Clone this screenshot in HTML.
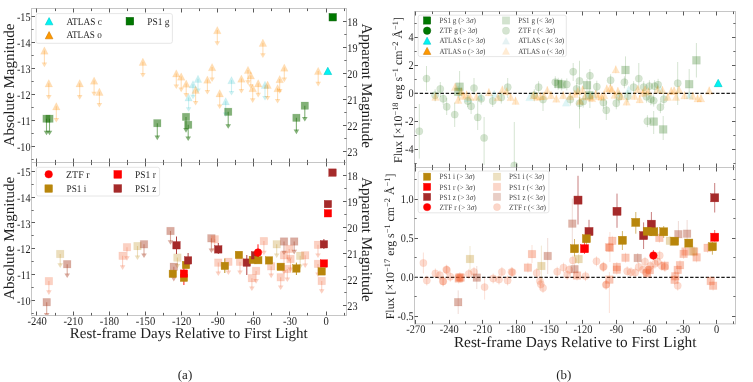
<!DOCTYPE html><html><head><meta charset="utf-8"><style>html,body{margin:0;padding:0;background:#fff;width:753px;height:382px;overflow:hidden}svg{display:block}text{font-family:"Liberation Serif",serif;text-rendering:geometricPrecision}svg{will-change:transform}</style></head><body>
<svg width="753" height="382" viewBox="0 0 753 382">
<rect width="753" height="382" fill="#fff"/>
<line x1="188.6" y1="97.4" x2="188.6" y2="108.3" stroke="#00b4bc" stroke-opacity="0.2" stroke-width="1.1"/>
<polygon points="185.8,107.2 191.4,107.2 188.6,111.8" fill="#00b4bc" fill-opacity="0.2"/>
<polygon points="188.6,93.7 184.8,101.1 192.4,101.1" fill="#00b4bc" fill-opacity="0.2" stroke="#00b4bc" stroke-opacity="0.070" stroke-width="0.7" stroke-linejoin="miter"/>
<line x1="193" y1="84.3" x2="193" y2="95.8" stroke="#00b4bc" stroke-opacity="0.2" stroke-width="1.1"/>
<polygon points="190.2,94.7 195.8,94.7 193,99.3" fill="#00b4bc" fill-opacity="0.2"/>
<polygon points="193,80.6 189.2,88 196.8,88" fill="#00b4bc" fill-opacity="0.2" stroke="#00b4bc" stroke-opacity="0.070" stroke-width="0.7" stroke-linejoin="miter"/>
<line x1="198" y1="78.8" x2="198" y2="89.5" stroke="#00b4bc" stroke-opacity="0.2" stroke-width="1.1"/>
<polygon points="195.2,88.4 200.8,88.4 198,93" fill="#00b4bc" fill-opacity="0.2"/>
<polygon points="198,75.1 194.2,82.5 201.8,82.5" fill="#00b4bc" fill-opacity="0.2" stroke="#00b4bc" stroke-opacity="0.070" stroke-width="0.7" stroke-linejoin="miter"/>
<line x1="225.7" y1="101.2" x2="225.7" y2="113.5" stroke="#00b4bc" stroke-opacity="0.2" stroke-width="1.1"/>
<polygon points="222.9,112.4 228.5,112.4 225.7,117" fill="#00b4bc" fill-opacity="0.2"/>
<polygon points="225.7,97.5 221.9,104.9 229.5,104.9" fill="#00b4bc" fill-opacity="0.2" stroke="#00b4bc" stroke-opacity="0.070" stroke-width="0.7" stroke-linejoin="miter"/>
<line x1="231.5" y1="80.1" x2="231.5" y2="92" stroke="#00b4bc" stroke-opacity="0.2" stroke-width="1.1"/>
<polygon points="228.7,90.9 234.3,90.9 231.5,95.5" fill="#00b4bc" fill-opacity="0.2"/>
<polygon points="231.5,76.4 227.7,83.8 235.3,83.8" fill="#00b4bc" fill-opacity="0.2" stroke="#00b4bc" stroke-opacity="0.070" stroke-width="0.7" stroke-linejoin="miter"/>
<line x1="265" y1="84.8" x2="265" y2="97" stroke="#00b4bc" stroke-opacity="0.2" stroke-width="1.1"/>
<polygon points="262.2,95.9 267.8,95.9 265,100.5" fill="#00b4bc" fill-opacity="0.2"/>
<polygon points="265,81.1 261.2,88.5 268.8,88.5" fill="#00b4bc" fill-opacity="0.2" stroke="#00b4bc" stroke-opacity="0.070" stroke-width="0.7" stroke-linejoin="miter"/>
<line x1="44.4" y1="50.5" x2="44.4" y2="63.7" stroke="#ff8c00" stroke-opacity="0.29" stroke-width="1.1"/>
<polygon points="41.6,62.6 47.2,62.6 44.4,67.2" fill="#ff8c00" fill-opacity="0.29"/>
<polygon points="44.4,46.8 40.6,54.2 48.2,54.2" fill="#ff8c00" fill-opacity="0.29" stroke="#ff8c00" stroke-opacity="0.101" stroke-width="0.7" stroke-linejoin="miter"/>
<line x1="48.8" y1="83.2" x2="48.8" y2="96.2" stroke="#ff8c00" stroke-opacity="0.29" stroke-width="1.1"/>
<polygon points="46,95.1 51.6,95.1 48.8,99.7" fill="#ff8c00" fill-opacity="0.29"/>
<polygon points="48.8,79.5 45,86.9 52.6,86.9" fill="#ff8c00" fill-opacity="0.29" stroke="#ff8c00" stroke-opacity="0.101" stroke-width="0.7" stroke-linejoin="miter"/>
<line x1="56.3" y1="106.3" x2="56.3" y2="119" stroke="#ff8c00" stroke-opacity="0.29" stroke-width="1.1"/>
<polygon points="53.5,117.9 59.1,117.9 56.3,122.5" fill="#ff8c00" fill-opacity="0.29"/>
<polygon points="56.3,102.6 52.5,110 60.1,110" fill="#ff8c00" fill-opacity="0.29" stroke="#ff8c00" stroke-opacity="0.101" stroke-width="0.7" stroke-linejoin="miter"/>
<line x1="79.7" y1="83.2" x2="79.7" y2="96.2" stroke="#ff8c00" stroke-opacity="0.29" stroke-width="1.1"/>
<polygon points="76.9,95.1 82.5,95.1 79.7,99.7" fill="#ff8c00" fill-opacity="0.29"/>
<polygon points="79.7,79.5 75.9,86.9 83.5,86.9" fill="#ff8c00" fill-opacity="0.29" stroke="#ff8c00" stroke-opacity="0.101" stroke-width="0.7" stroke-linejoin="miter"/>
<line x1="94.1" y1="80.6" x2="94.1" y2="92.8" stroke="#ff8c00" stroke-opacity="0.29" stroke-width="1.1"/>
<polygon points="91.3,91.7 96.9,91.7 94.1,96.3" fill="#ff8c00" fill-opacity="0.29"/>
<polygon points="94.1,76.9 90.3,84.3 97.9,84.3" fill="#ff8c00" fill-opacity="0.29" stroke="#ff8c00" stroke-opacity="0.101" stroke-width="0.7" stroke-linejoin="miter"/>
<line x1="99.4" y1="91.8" x2="99.4" y2="104" stroke="#ff8c00" stroke-opacity="0.29" stroke-width="1.1"/>
<polygon points="96.6,102.9 102.2,102.9 99.4,107.5" fill="#ff8c00" fill-opacity="0.29"/>
<polygon points="99.4,88.1 95.6,95.5 103.2,95.5" fill="#ff8c00" fill-opacity="0.29" stroke="#ff8c00" stroke-opacity="0.101" stroke-width="0.7" stroke-linejoin="miter"/>
<line x1="142.9" y1="61.8" x2="142.9" y2="74" stroke="#ff8c00" stroke-opacity="0.29" stroke-width="1.1"/>
<polygon points="140.1,72.9 145.7,72.9 142.9,77.5" fill="#ff8c00" fill-opacity="0.29"/>
<polygon points="142.9,58.1 139.1,65.5 146.7,65.5" fill="#ff8c00" fill-opacity="0.29" stroke="#ff8c00" stroke-opacity="0.101" stroke-width="0.7" stroke-linejoin="miter"/>
<line x1="176.3" y1="73.4" x2="176.3" y2="85.6" stroke="#ff8c00" stroke-opacity="0.29" stroke-width="1.1"/>
<polygon points="173.5,84.5 179.1,84.5 176.3,89.1" fill="#ff8c00" fill-opacity="0.29"/>
<polygon points="176.3,69.7 172.5,77.1 180.1,77.1" fill="#ff8c00" fill-opacity="0.29" stroke="#ff8c00" stroke-opacity="0.101" stroke-width="0.7" stroke-linejoin="miter"/>
<line x1="181.2" y1="76.5" x2="181.2" y2="88.7" stroke="#ff8c00" stroke-opacity="0.29" stroke-width="1.1"/>
<polygon points="178.4,87.6 184,87.6 181.2,92.2" fill="#ff8c00" fill-opacity="0.29"/>
<polygon points="181.2,72.8 177.4,80.2 185,80.2" fill="#ff8c00" fill-opacity="0.29" stroke="#ff8c00" stroke-opacity="0.101" stroke-width="0.7" stroke-linejoin="miter"/>
<line x1="186.2" y1="83.6" x2="186.2" y2="94.2" stroke="#ff8c00" stroke-opacity="0.29" stroke-width="1.1"/>
<polygon points="183.4,93.1 189,93.1 186.2,97.7" fill="#ff8c00" fill-opacity="0.29"/>
<polygon points="186.2,79.9 182.4,87.3 190,87.3" fill="#ff8c00" fill-opacity="0.29" stroke="#ff8c00" stroke-opacity="0.101" stroke-width="0.7" stroke-linejoin="miter"/>
<line x1="195.6" y1="89.8" x2="195.6" y2="102" stroke="#ff8c00" stroke-opacity="0.29" stroke-width="1.1"/>
<polygon points="192.8,100.9 198.4,100.9 195.6,105.5" fill="#ff8c00" fill-opacity="0.29"/>
<polygon points="195.6,86.1 191.8,93.5 199.4,93.5" fill="#ff8c00" fill-opacity="0.29" stroke="#ff8c00" stroke-opacity="0.101" stroke-width="0.7" stroke-linejoin="miter"/>
<line x1="207.4" y1="79.6" x2="207.4" y2="91.1" stroke="#ff8c00" stroke-opacity="0.29" stroke-width="1.1"/>
<polygon points="204.6,90 210.2,90 207.4,94.6" fill="#ff8c00" fill-opacity="0.29"/>
<polygon points="207.4,75.9 203.6,83.3 211.2,83.3" fill="#ff8c00" fill-opacity="0.29" stroke="#ff8c00" stroke-opacity="0.101" stroke-width="0.7" stroke-linejoin="miter"/>
<line x1="212.1" y1="67.1" x2="212.1" y2="78.5" stroke="#ff8c00" stroke-opacity="0.29" stroke-width="1.1"/>
<polygon points="209.3,77.4 214.9,77.4 212.1,82" fill="#ff8c00" fill-opacity="0.29"/>
<polygon points="212.1,63.4 208.3,70.8 215.9,70.8" fill="#ff8c00" fill-opacity="0.29" stroke="#ff8c00" stroke-opacity="0.101" stroke-width="0.7" stroke-linejoin="miter"/>
<line x1="217.3" y1="30.1" x2="217.3" y2="42.3" stroke="#ff8c00" stroke-opacity="0.29" stroke-width="1.1"/>
<polygon points="214.5,41.2 220.1,41.2 217.3,45.8" fill="#ff8c00" fill-opacity="0.29"/>
<polygon points="217.3,26.4 213.5,33.8 221.1,33.8" fill="#ff8c00" fill-opacity="0.29" stroke="#ff8c00" stroke-opacity="0.101" stroke-width="0.7" stroke-linejoin="miter"/>
<line x1="219.7" y1="93.2" x2="219.7" y2="105.5" stroke="#ff8c00" stroke-opacity="0.29" stroke-width="1.1"/>
<polygon points="216.9,104.4 222.5,104.4 219.7,109" fill="#ff8c00" fill-opacity="0.29"/>
<polygon points="219.7,89.5 215.9,96.9 223.5,96.9" fill="#ff8c00" fill-opacity="0.29" stroke="#ff8c00" stroke-opacity="0.101" stroke-width="0.7" stroke-linejoin="miter"/>
<line x1="241.4" y1="78.6" x2="241.4" y2="90" stroke="#ff8c00" stroke-opacity="0.29" stroke-width="1.1"/>
<polygon points="238.6,88.9 244.2,88.9 241.4,93.5" fill="#ff8c00" fill-opacity="0.29"/>
<polygon points="241.4,74.9 237.6,82.3 245.2,82.3" fill="#ff8c00" fill-opacity="0.29" stroke="#ff8c00" stroke-opacity="0.101" stroke-width="0.7" stroke-linejoin="miter"/>
<line x1="248" y1="69.9" x2="248" y2="81.3" stroke="#ff8c00" stroke-opacity="0.29" stroke-width="1.1"/>
<polygon points="245.2,80.2 250.8,80.2 248,84.8" fill="#ff8c00" fill-opacity="0.29"/>
<polygon points="248,66.2 244.2,73.6 251.8,73.6" fill="#ff8c00" fill-opacity="0.29" stroke="#ff8c00" stroke-opacity="0.101" stroke-width="0.7" stroke-linejoin="miter"/>
<line x1="250.8" y1="75.4" x2="250.8" y2="85.3" stroke="#ff8c00" stroke-opacity="0.29" stroke-width="1.1"/>
<polygon points="248,84.2 253.6,84.2 250.8,88.8" fill="#ff8c00" fill-opacity="0.29"/>
<polygon points="250.8,71.7 247,79.1 254.6,79.1" fill="#ff8c00" fill-opacity="0.29" stroke="#ff8c00" stroke-opacity="0.101" stroke-width="0.7" stroke-linejoin="miter"/>
<line x1="252.7" y1="88" x2="252.7" y2="99.4" stroke="#ff8c00" stroke-opacity="0.29" stroke-width="1.1"/>
<polygon points="249.9,98.3 255.5,98.3 252.7,102.9" fill="#ff8c00" fill-opacity="0.29"/>
<polygon points="252.7,84.3 248.9,91.7 256.5,91.7" fill="#ff8c00" fill-opacity="0.29" stroke="#ff8c00" stroke-opacity="0.101" stroke-width="0.7" stroke-linejoin="miter"/>
<line x1="258.2" y1="83.3" x2="258.2" y2="93.9" stroke="#ff8c00" stroke-opacity="0.29" stroke-width="1.1"/>
<polygon points="255.4,92.8 261,92.8 258.2,97.4" fill="#ff8c00" fill-opacity="0.29"/>
<polygon points="258.2,79.6 254.4,87 262,87" fill="#ff8c00" fill-opacity="0.29" stroke="#ff8c00" stroke-opacity="0.101" stroke-width="0.7" stroke-linejoin="miter"/>
<line x1="262.9" y1="42.7" x2="262.9" y2="54.4" stroke="#ff8c00" stroke-opacity="0.29" stroke-width="1.1"/>
<polygon points="260.1,53.3 265.7,53.3 262.9,57.9" fill="#ff8c00" fill-opacity="0.29"/>
<polygon points="262.9,39 259.1,46.4 266.7,46.4" fill="#ff8c00" fill-opacity="0.29" stroke="#ff8c00" stroke-opacity="0.101" stroke-width="0.7" stroke-linejoin="miter"/>
<line x1="267.6" y1="84.8" x2="267.6" y2="97" stroke="#ff8c00" stroke-opacity="0.29" stroke-width="1.1"/>
<polygon points="264.8,95.9 270.4,95.9 267.6,100.5" fill="#ff8c00" fill-opacity="0.29"/>
<polygon points="267.6,81.1 263.8,88.5 271.4,88.5" fill="#ff8c00" fill-opacity="0.29" stroke="#ff8c00" stroke-opacity="0.101" stroke-width="0.7" stroke-linejoin="miter"/>
<line x1="277.6" y1="88.1" x2="277.6" y2="100.1" stroke="#ff8c00" stroke-opacity="0.29" stroke-width="1.1"/>
<polygon points="274.8,99 280.4,99 277.6,103.6" fill="#ff8c00" fill-opacity="0.29"/>
<polygon points="277.6,84.4 273.8,91.8 281.4,91.8" fill="#ff8c00" fill-opacity="0.29" stroke="#ff8c00" stroke-opacity="0.101" stroke-width="0.7" stroke-linejoin="miter"/>
<line x1="279.7" y1="79.1" x2="279.7" y2="90.2" stroke="#ff8c00" stroke-opacity="0.29" stroke-width="1.1"/>
<polygon points="276.9,89.1 282.5,89.1 279.7,93.7" fill="#ff8c00" fill-opacity="0.29"/>
<polygon points="279.7,75.4 275.9,82.8 283.5,82.8" fill="#ff8c00" fill-opacity="0.29" stroke="#ff8c00" stroke-opacity="0.101" stroke-width="0.7" stroke-linejoin="miter"/>
<line x1="284.3" y1="67.6" x2="284.3" y2="78.7" stroke="#ff8c00" stroke-opacity="0.29" stroke-width="1.1"/>
<polygon points="281.5,77.6 287.1,77.6 284.3,82.2" fill="#ff8c00" fill-opacity="0.29"/>
<polygon points="284.3,63.9 280.5,71.3 288.1,71.3" fill="#ff8c00" fill-opacity="0.29" stroke="#ff8c00" stroke-opacity="0.101" stroke-width="0.7" stroke-linejoin="miter"/>
<line x1="318.2" y1="70.9" x2="318.2" y2="82.9" stroke="#ff8c00" stroke-opacity="0.29" stroke-width="1.1"/>
<polygon points="315.4,81.8 321,81.8 318.2,86.4" fill="#ff8c00" fill-opacity="0.29"/>
<polygon points="318.2,67.2 314.4,74.6 322,74.6" fill="#ff8c00" fill-opacity="0.29" stroke="#ff8c00" stroke-opacity="0.101" stroke-width="0.7" stroke-linejoin="miter"/>
<line x1="46.5" y1="118.7" x2="46.5" y2="131.8" stroke="#156c00" stroke-opacity="0.53" stroke-width="1.1"/>
<polygon points="43.7,130.7 49.3,130.7 46.5,135.3" fill="#156c00" fill-opacity="0.53"/>
<rect x="42.85" y="115.05" width="7.3" height="7.3" fill="#156c00" fill-opacity="0.53" stroke="#156c00" stroke-opacity="0.185" stroke-width="0.7"/>
<line x1="49.5" y1="118.7" x2="49.5" y2="131.8" stroke="#156c00" stroke-opacity="0.53" stroke-width="1.1"/>
<polygon points="46.7,130.7 52.3,130.7 49.5,135.3" fill="#156c00" fill-opacity="0.53"/>
<rect x="45.85" y="115.05" width="7.3" height="7.3" fill="#156c00" fill-opacity="0.53" stroke="#156c00" stroke-opacity="0.185" stroke-width="0.7"/>
<line x1="157.3" y1="123.2" x2="157.3" y2="136.7" stroke="#156c00" stroke-opacity="0.53" stroke-width="1.1"/>
<polygon points="154.5,135.6 160.1,135.6 157.3,140.2" fill="#156c00" fill-opacity="0.53"/>
<rect x="153.65" y="119.55" width="7.3" height="7.3" fill="#156c00" fill-opacity="0.53" stroke="#156c00" stroke-opacity="0.185" stroke-width="0.7"/>
<line x1="186" y1="116.9" x2="186" y2="129.2" stroke="#156c00" stroke-opacity="0.53" stroke-width="1.1"/>
<polygon points="183.2,128.1 188.8,128.1 186,132.7" fill="#156c00" fill-opacity="0.53"/>
<rect x="182.35" y="113.25" width="7.3" height="7.3" fill="#156c00" fill-opacity="0.53" stroke="#156c00" stroke-opacity="0.185" stroke-width="0.7"/>
<line x1="188.2" y1="124.8" x2="188.2" y2="137.5" stroke="#156c00" stroke-opacity="0.53" stroke-width="1.1"/>
<polygon points="185.4,136.4 191,136.4 188.2,141" fill="#156c00" fill-opacity="0.53"/>
<rect x="184.55" y="121.15" width="7.3" height="7.3" fill="#156c00" fill-opacity="0.53" stroke="#156c00" stroke-opacity="0.185" stroke-width="0.7"/>
<line x1="228.2" y1="111.8" x2="228.2" y2="125.3" stroke="#156c00" stroke-opacity="0.53" stroke-width="1.1"/>
<polygon points="225.4,124.2 231,124.2 228.2,128.8" fill="#156c00" fill-opacity="0.53"/>
<rect x="224.55" y="108.15" width="7.3" height="7.3" fill="#156c00" fill-opacity="0.53" stroke="#156c00" stroke-opacity="0.185" stroke-width="0.7"/>
<line x1="296.4" y1="117.8" x2="296.4" y2="130.7" stroke="#156c00" stroke-opacity="0.53" stroke-width="1.1"/>
<polygon points="293.6,129.6 299.2,129.6 296.4,134.2" fill="#156c00" fill-opacity="0.53"/>
<rect x="292.75" y="114.15" width="7.3" height="7.3" fill="#156c00" fill-opacity="0.53" stroke="#156c00" stroke-opacity="0.185" stroke-width="0.7"/>
<line x1="304.8" y1="105.7" x2="304.8" y2="118.1" stroke="#156c00" stroke-opacity="0.53" stroke-width="1.1"/>
<polygon points="302,117 307.6,117 304.8,121.6" fill="#156c00" fill-opacity="0.53"/>
<rect x="301.15" y="102.05" width="7.3" height="7.3" fill="#156c00" fill-opacity="0.53" stroke="#156c00" stroke-opacity="0.185" stroke-width="0.7"/>
<polygon points="327.8,67.25 323.9,74.55 331.7,74.55" fill="#00f4f4" fill-opacity="1" stroke="#00c8c8" stroke-opacity="1.000" stroke-width="0.6" stroke-linejoin="miter"/>
<rect x="329.05" y="13.65" width="7.3" height="7.3" fill="#007800" fill-opacity="1" stroke="#005a00" stroke-opacity="1.000" stroke-width="0.5"/>
<clipPath id="cab"><rect x="31.5" y="162.2" width="315" height="153.1"/></clipPath><g clip-path="url(#cab)">
<line x1="46.7" y1="302.2" x2="46.7" y2="314" stroke="#a83a1c" stroke-opacity="0.42" stroke-width="1.1"/>
<polygon points="43.9,312.9 49.5,312.9 46.7,317.5" fill="#a83a1c" fill-opacity="0.42"/>
<rect x="42.95" y="298.45" width="7.5" height="7.5" fill="#a83a1c" fill-opacity="0.42" stroke="#a83a1c" stroke-opacity="0.147" stroke-width="0.7"/>
<line x1="48.9" y1="281.1" x2="48.9" y2="291.4" stroke="#f05a28" stroke-opacity="0.28" stroke-width="1.1"/>
<polygon points="46.1,290.3 51.7,290.3 48.9,294.9" fill="#f05a28" fill-opacity="0.28"/>
<rect x="45.15" y="277.35" width="7.5" height="7.5" fill="#f05a28" fill-opacity="0.28" stroke="#f05a28" stroke-opacity="0.098" stroke-width="0.7"/>
<line x1="60.2" y1="254" x2="60.2" y2="264.4" stroke="#b8860b" stroke-opacity="0.27" stroke-width="1.1"/>
<polygon points="57.4,263.3 63,263.3 60.2,267.9" fill="#b8860b" fill-opacity="0.27"/>
<rect x="56.45" y="250.25" width="7.5" height="7.5" fill="#b8860b" fill-opacity="0.27" stroke="#b8860b" stroke-opacity="0.095" stroke-width="0.7"/>
<line x1="67.2" y1="264.2" x2="67.2" y2="274.5" stroke="#a83a1c" stroke-opacity="0.42" stroke-width="1.1"/>
<polygon points="64.4,273.4 70,273.4 67.2,278" fill="#a83a1c" fill-opacity="0.42"/>
<rect x="63.45" y="260.45" width="7.5" height="7.5" fill="#a83a1c" fill-opacity="0.42" stroke="#a83a1c" stroke-opacity="0.147" stroke-width="0.7"/>
<line x1="122.6" y1="255.8" x2="122.6" y2="266.4" stroke="#f05a28" stroke-opacity="0.28" stroke-width="1.1"/>
<polygon points="119.8,265.3 125.4,265.3 122.6,269.9" fill="#f05a28" fill-opacity="0.28"/>
<rect x="118.85" y="252.05" width="7.5" height="7.5" fill="#f05a28" fill-opacity="0.28" stroke="#f05a28" stroke-opacity="0.098" stroke-width="0.7"/>
<line x1="127" y1="247.2" x2="127" y2="257.3" stroke="#f05a28" stroke-opacity="0.28" stroke-width="1.1"/>
<polygon points="124.2,256.2 129.8,256.2 127,260.8" fill="#f05a28" fill-opacity="0.28"/>
<rect x="123.25" y="243.45" width="7.5" height="7.5" fill="#f05a28" fill-opacity="0.28" stroke="#f05a28" stroke-opacity="0.098" stroke-width="0.7"/>
<line x1="137.5" y1="246.1" x2="137.5" y2="256.6" stroke="#b8860b" stroke-opacity="0.27" stroke-width="1.1"/>
<polygon points="134.7,255.5 140.3,255.5 137.5,260.1" fill="#b8860b" fill-opacity="0.27"/>
<rect x="133.75" y="242.35" width="7.5" height="7.5" fill="#b8860b" fill-opacity="0.27" stroke="#b8860b" stroke-opacity="0.095" stroke-width="0.7"/>
<line x1="144" y1="244.3" x2="144" y2="254.6" stroke="#a83a1c" stroke-opacity="0.42" stroke-width="1.1"/>
<polygon points="141.2,253.5 146.8,253.5 144,258.1" fill="#a83a1c" fill-opacity="0.42"/>
<rect x="140.25" y="240.55" width="7.5" height="7.5" fill="#a83a1c" fill-opacity="0.42" stroke="#a83a1c" stroke-opacity="0.147" stroke-width="0.7"/>
<line x1="170.5" y1="231" x2="170.5" y2="241.3" stroke="#a83a1c" stroke-opacity="0.42" stroke-width="1.1"/>
<polygon points="167.7,240.2 173.3,240.2 170.5,244.8" fill="#a83a1c" fill-opacity="0.42"/>
<rect x="166.75" y="227.25" width="7.5" height="7.5" fill="#a83a1c" fill-opacity="0.42" stroke="#a83a1c" stroke-opacity="0.147" stroke-width="0.7"/>
<line x1="177.4" y1="257.6" x2="177.4" y2="265.1" stroke="#b8860b" stroke-opacity="0.27" stroke-width="1.1"/>
<polygon points="174.6,264 180.2,264 177.4,268.6" fill="#b8860b" fill-opacity="0.27"/>
<rect x="173.65" y="253.85" width="7.5" height="7.5" fill="#b8860b" fill-opacity="0.27" stroke="#b8860b" stroke-opacity="0.095" stroke-width="0.7"/>
<line x1="173.8" y1="266.8" x2="173.8" y2="277.9" stroke="#a83a1c" stroke-opacity="0.42" stroke-width="1.1"/>
<polygon points="171,276.8 176.6,276.8 173.8,281.4" fill="#a83a1c" fill-opacity="0.42"/>
<rect x="170.05" y="263.05" width="7.5" height="7.5" fill="#a83a1c" fill-opacity="0.42" stroke="#a83a1c" stroke-opacity="0.147" stroke-width="0.7"/>
<line x1="211.4" y1="238.3" x2="211.4" y2="249.5" stroke="#a83a1c" stroke-opacity="0.42" stroke-width="1.1"/>
<polygon points="208.6,248.4 214.2,248.4 211.4,253" fill="#a83a1c" fill-opacity="0.42"/>
<rect x="207.65" y="234.55" width="7.5" height="7.5" fill="#a83a1c" fill-opacity="0.42" stroke="#a83a1c" stroke-opacity="0.147" stroke-width="0.7"/>
<line x1="214.7" y1="239.3" x2="214.7" y2="249.5" stroke="#f05a28" stroke-opacity="0.28" stroke-width="1.1"/>
<polygon points="211.9,248.4 217.5,248.4 214.7,253" fill="#f05a28" fill-opacity="0.28"/>
<rect x="210.95" y="235.55" width="7.5" height="7.5" fill="#f05a28" fill-opacity="0.28" stroke="#f05a28" stroke-opacity="0.098" stroke-width="0.7"/>
<line x1="218.3" y1="262.6" x2="218.3" y2="272.5" stroke="#f05a28" stroke-opacity="0.28" stroke-width="1.1"/>
<polygon points="215.5,271.4 221.1,271.4 218.3,276" fill="#f05a28" fill-opacity="0.28"/>
<rect x="214.55" y="258.85" width="7.5" height="7.5" fill="#f05a28" fill-opacity="0.28" stroke="#f05a28" stroke-opacity="0.098" stroke-width="0.7"/>
<line x1="228.4" y1="261.8" x2="228.4" y2="271.5" stroke="#f05a28" stroke-opacity="0.28" stroke-width="1.1"/>
<polygon points="225.6,270.4 231.2,270.4 228.4,275" fill="#f05a28" fill-opacity="0.28"/>
<rect x="224.65" y="258.05" width="7.5" height="7.5" fill="#f05a28" fill-opacity="0.28" stroke="#f05a28" stroke-opacity="0.098" stroke-width="0.7"/>
<line x1="240" y1="261.8" x2="240" y2="271.5" stroke="#f05a28" stroke-opacity="0.28" stroke-width="1.1"/>
<polygon points="237.2,270.4 242.8,270.4 240,275" fill="#f05a28" fill-opacity="0.28"/>
<rect x="236.25" y="258.05" width="7.5" height="7.5" fill="#f05a28" fill-opacity="0.28" stroke="#f05a28" stroke-opacity="0.098" stroke-width="0.7"/>
<line x1="263.9" y1="241.1" x2="263.9" y2="251.8" stroke="#f05a28" stroke-opacity="0.28" stroke-width="1.1"/>
<polygon points="261.1,250.7 266.7,250.7 263.9,255.3" fill="#f05a28" fill-opacity="0.28"/>
<rect x="260.15" y="237.35" width="7.5" height="7.5" fill="#f05a28" fill-opacity="0.28" stroke="#f05a28" stroke-opacity="0.098" stroke-width="0.7"/>
<line x1="271.2" y1="266.3" x2="271.2" y2="274.7" stroke="#f05a28" stroke-opacity="0.28" stroke-width="1.1"/>
<polygon points="268.4,273.6 274,273.6 271.2,278.2" fill="#f05a28" fill-opacity="0.28"/>
<rect x="267.45" y="262.55" width="7.5" height="7.5" fill="#f05a28" fill-opacity="0.28" stroke="#f05a28" stroke-opacity="0.098" stroke-width="0.7"/>
<line x1="256.1" y1="270.9" x2="256.1" y2="280.2" stroke="#f05a28" stroke-opacity="0.28" stroke-width="1.1"/>
<polygon points="253.3,279.1 258.9,279.1 256.1,283.7" fill="#f05a28" fill-opacity="0.28"/>
<rect x="252.35" y="267.15" width="7.5" height="7.5" fill="#f05a28" fill-opacity="0.28" stroke="#f05a28" stroke-opacity="0.098" stroke-width="0.7"/>
<line x1="251.9" y1="278.2" x2="251.9" y2="287.5" stroke="#f05a28" stroke-opacity="0.28" stroke-width="1.1"/>
<polygon points="249.1,286.4 254.7,286.4 251.9,291" fill="#f05a28" fill-opacity="0.28"/>
<rect x="248.15" y="274.45" width="7.5" height="7.5" fill="#f05a28" fill-opacity="0.28" stroke="#f05a28" stroke-opacity="0.098" stroke-width="0.7"/>
<line x1="276.7" y1="244.3" x2="276.7" y2="254.5" stroke="#b8860b" stroke-opacity="0.27" stroke-width="1.1"/>
<polygon points="273.9,253.4 279.5,253.4 276.7,258" fill="#b8860b" fill-opacity="0.27"/>
<rect x="272.95" y="240.55" width="7.5" height="7.5" fill="#b8860b" fill-opacity="0.27" stroke="#b8860b" stroke-opacity="0.095" stroke-width="0.7"/>
<line x1="284" y1="241.5" x2="284" y2="251.8" stroke="#a83a1c" stroke-opacity="0.42" stroke-width="1.1"/>
<polygon points="281.2,250.7 286.8,250.7 284,255.3" fill="#a83a1c" fill-opacity="0.42"/>
<rect x="280.25" y="237.75" width="7.5" height="7.5" fill="#a83a1c" fill-opacity="0.42" stroke="#a83a1c" stroke-opacity="0.147" stroke-width="0.7"/>
<line x1="294.2" y1="241.5" x2="294.2" y2="250.9" stroke="#a83a1c" stroke-opacity="0.42" stroke-width="1.1"/>
<polygon points="291.4,249.8 297,249.8 294.2,254.4" fill="#a83a1c" fill-opacity="0.42"/>
<rect x="290.45" y="237.75" width="7.5" height="7.5" fill="#a83a1c" fill-opacity="0.42" stroke="#a83a1c" stroke-opacity="0.147" stroke-width="0.7"/>
<line x1="289.2" y1="248.9" x2="289.2" y2="258.5" stroke="#f05a28" stroke-opacity="0.28" stroke-width="1.1"/>
<polygon points="286.4,257.4 292,257.4 289.2,262" fill="#f05a28" fill-opacity="0.28"/>
<rect x="285.45" y="245.15" width="7.5" height="7.5" fill="#f05a28" fill-opacity="0.28" stroke="#f05a28" stroke-opacity="0.098" stroke-width="0.7"/>
<line x1="284" y1="255.3" x2="284" y2="271" stroke="#f05a28" stroke-opacity="0.28" stroke-width="1.1"/>
<polygon points="281.2,269.9 286.8,269.9 284,274.5" fill="#f05a28" fill-opacity="0.28"/>
<rect x="280.25" y="251.55" width="7.5" height="7.5" fill="#f05a28" fill-opacity="0.28" stroke="#f05a28" stroke-opacity="0.098" stroke-width="0.7"/>
<line x1="290.5" y1="259" x2="290.5" y2="268.5" stroke="#f05a28" stroke-opacity="0.28" stroke-width="1.1"/>
<polygon points="287.7,267.4 293.3,267.4 290.5,272" fill="#f05a28" fill-opacity="0.28"/>
<rect x="286.75" y="255.25" width="7.5" height="7.5" fill="#f05a28" fill-opacity="0.28" stroke="#f05a28" stroke-opacity="0.098" stroke-width="0.7"/>
<line x1="280.7" y1="277.3" x2="280.7" y2="286.6" stroke="#f05a28" stroke-opacity="0.28" stroke-width="1.1"/>
<polygon points="277.9,285.5 283.5,285.5 280.7,290.1" fill="#f05a28" fill-opacity="0.28"/>
<rect x="276.95" y="273.55" width="7.5" height="7.5" fill="#f05a28" fill-opacity="0.28" stroke="#f05a28" stroke-opacity="0.098" stroke-width="0.7"/>
<line x1="287.3" y1="269" x2="287.3" y2="278.5" stroke="#f05a28" stroke-opacity="0.28" stroke-width="1.1"/>
<polygon points="284.5,277.4 290.1,277.4 287.3,282" fill="#f05a28" fill-opacity="0.28"/>
<rect x="283.55" y="265.25" width="7.5" height="7.5" fill="#f05a28" fill-opacity="0.28" stroke="#f05a28" stroke-opacity="0.098" stroke-width="0.7"/>
<line x1="300.2" y1="255.8" x2="300.2" y2="265.5" stroke="#b8860b" stroke-opacity="0.27" stroke-width="1.1"/>
<polygon points="297.4,264.4 303,264.4 300.2,269" fill="#b8860b" fill-opacity="0.27"/>
<rect x="296.45" y="252.05" width="7.5" height="7.5" fill="#b8860b" fill-opacity="0.27" stroke="#b8860b" stroke-opacity="0.095" stroke-width="0.7"/>
<line x1="305.2" y1="255.3" x2="305.2" y2="264.6" stroke="#f05a28" stroke-opacity="0.28" stroke-width="1.1"/>
<polygon points="302.4,263.5 308,263.5 305.2,268.1" fill="#f05a28" fill-opacity="0.28"/>
<rect x="301.45" y="251.55" width="7.5" height="7.5" fill="#f05a28" fill-opacity="0.28" stroke="#f05a28" stroke-opacity="0.098" stroke-width="0.7"/>
<line x1="318" y1="244.8" x2="318" y2="254.5" stroke="#f05a28" stroke-opacity="0.28" stroke-width="1.1"/>
<polygon points="315.2,253.4 320.8,253.4 318,258" fill="#f05a28" fill-opacity="0.28"/>
<rect x="314.25" y="241.05" width="7.5" height="7.5" fill="#f05a28" fill-opacity="0.28" stroke="#f05a28" stroke-opacity="0.098" stroke-width="0.7"/>
<line x1="318" y1="263.9" x2="318" y2="273.5" stroke="#f05a28" stroke-opacity="0.28" stroke-width="1.1"/>
<polygon points="315.2,272.4 320.8,272.4 318,277" fill="#f05a28" fill-opacity="0.28"/>
<rect x="314.25" y="260.15" width="7.5" height="7.5" fill="#f05a28" fill-opacity="0.28" stroke="#f05a28" stroke-opacity="0.098" stroke-width="0.7"/>
<line x1="321.7" y1="281" x2="321.7" y2="290.3" stroke="#f05a28" stroke-opacity="0.28" stroke-width="1.1"/>
<polygon points="318.9,289.2 324.5,289.2 321.7,293.8" fill="#f05a28" fill-opacity="0.28"/>
<rect x="317.95" y="277.25" width="7.5" height="7.5" fill="#f05a28" fill-opacity="0.28" stroke="#f05a28" stroke-opacity="0.098" stroke-width="0.7"/>
</g>
<line x1="176.5" y1="236.5" x2="176.5" y2="254" stroke="#a52a2a" stroke-opacity="0.9" stroke-width="1"/>
<line x1="188.1" y1="253" x2="188.1" y2="265" stroke="#a52a2a" stroke-opacity="0.9" stroke-width="1"/>
<line x1="183.9" y1="268" x2="183.9" y2="285" stroke="#ff0000" stroke-opacity="0.9" stroke-width="1"/>
<line x1="218.3" y1="243" x2="218.3" y2="254" stroke="#a52a2a" stroke-opacity="0.9" stroke-width="1"/>
<line x1="224.8" y1="258.5" x2="224.8" y2="273" stroke="#b8860b" stroke-opacity="0.9" stroke-width="1"/>
<line x1="246.8" y1="255" x2="246.8" y2="275" stroke="#a52a2a" stroke-opacity="0.9" stroke-width="1"/>
<line x1="296.4" y1="262.6" x2="296.4" y2="275" stroke="#b8860b" stroke-opacity="0.9" stroke-width="1"/>
<line x1="323.9" y1="239" x2="323.9" y2="249" stroke="#a52a2a" stroke-opacity="0.9" stroke-width="1"/>
<rect x="172.8" y="241.6" width="7.4" height="7.4" fill="#a52a2a" fill-opacity="1" stroke="#a52a2a" stroke-opacity="1.000" stroke-width="0.4"/>
<rect x="169.1" y="270.1" width="7.4" height="7.4" fill="#b8860b" fill-opacity="1" stroke="#b8860b" stroke-opacity="1.000" stroke-width="0.4"/>
<rect x="182.3" y="261.3" width="7.4" height="7.4" fill="#b8860b" fill-opacity="1" stroke="#b8860b" stroke-opacity="1.000" stroke-width="0.4"/>
<rect x="184.4" y="256.7" width="7.4" height="7.4" fill="#a52a2a" fill-opacity="1" stroke="#a52a2a" stroke-opacity="1.000" stroke-width="0.4"/>
<rect x="180.2" y="274.1" width="7.4" height="7.4" fill="#b8860b" fill-opacity="1" stroke="#b8860b" stroke-opacity="1.000" stroke-width="0.4"/>
<rect x="180.2" y="269.9" width="7.4" height="7.4" fill="#ff0000" fill-opacity="1" stroke="#ff0000" stroke-opacity="1.000" stroke-width="0.4"/>
<rect x="214.6" y="245.7" width="7.4" height="7.4" fill="#a52a2a" fill-opacity="1" stroke="#a52a2a" stroke-opacity="1.000" stroke-width="0.4"/>
<rect x="221.1" y="262.2" width="7.4" height="7.4" fill="#b8860b" fill-opacity="1" stroke="#b8860b" stroke-opacity="1.000" stroke-width="0.4"/>
<rect x="235.2" y="251.2" width="7.4" height="7.4" fill="#b8860b" fill-opacity="1" stroke="#b8860b" stroke-opacity="1.000" stroke-width="0.4"/>
<rect x="243.1" y="258.9" width="7.4" height="7.4" fill="#a52a2a" fill-opacity="1" stroke="#a52a2a" stroke-opacity="1.000" stroke-width="0.4"/>
<rect x="249.1" y="256.2" width="7.4" height="7.4" fill="#b8860b" fill-opacity="1" stroke="#b8860b" stroke-opacity="1.000" stroke-width="0.4"/>
<rect x="251.3" y="251.6" width="7.4" height="7.4" fill="#a52a2a" fill-opacity="1" stroke="#a52a2a" stroke-opacity="1.000" stroke-width="0.4"/>
<rect x="254.6" y="256.5" width="7.4" height="7.4" fill="#b8860b" fill-opacity="1" stroke="#b8860b" stroke-opacity="1.000" stroke-width="0.4"/>
<rect x="265.3" y="256.7" width="7.4" height="7.4" fill="#b8860b" fill-opacity="1" stroke="#b8860b" stroke-opacity="1.000" stroke-width="0.4"/>
<rect x="277" y="263.1" width="7.4" height="7.4" fill="#b8860b" fill-opacity="1" stroke="#b8860b" stroke-opacity="1.000" stroke-width="0.4"/>
<rect x="292.7" y="264.8" width="7.4" height="7.4" fill="#b8860b" fill-opacity="1" stroke="#b8860b" stroke-opacity="1.000" stroke-width="0.4"/>
<rect x="320.2" y="240.6" width="7.4" height="7.4" fill="#a52a2a" fill-opacity="1" stroke="#a52a2a" stroke-opacity="1.000" stroke-width="0.4"/>
<rect x="320.2" y="259.8" width="7.4" height="7.4" fill="#ff0000" fill-opacity="1" stroke="#ff0000" stroke-opacity="1.000" stroke-width="0.4"/>
<rect x="318" y="267.7" width="7.4" height="7.4" fill="#b8860b" fill-opacity="1" stroke="#b8860b" stroke-opacity="1.000" stroke-width="0.4"/>
<rect x="328.8" y="168.9" width="7.4" height="7.4" fill="#a52a2a" fill-opacity="1" stroke="#a52a2a" stroke-opacity="1.000" stroke-width="0.4"/>
<rect x="324.2" y="200.4" width="7.4" height="7.4" fill="#a52a2a" fill-opacity="1" stroke="#a52a2a" stroke-opacity="1.000" stroke-width="0.4"/>
<rect x="324.2" y="209.6" width="7.4" height="7.4" fill="#ff0000" fill-opacity="1" stroke="#ff0000" stroke-opacity="1.000" stroke-width="0.4"/>
<line x1="258" y1="244.3" x2="258" y2="257" stroke="#ff0000" stroke-opacity="0.9" stroke-width="1"/>
<circle cx="258" cy="252.5" r="3.7" fill="#ff0000" fill-opacity="1" stroke="#ff0000" stroke-opacity="1.000" stroke-width="0.7"/>
<rect x="31.5" y="8.5" width="315" height="154" fill="none" stroke="#c6c6c6" stroke-width="1"/>
<rect x="31.5" y="162.5" width="315" height="153" fill="none" stroke="#c6c6c6" stroke-width="1"/>
<line x1="36.5" y1="8.5" x2="36.5" y2="12.5" stroke="#5a5a5a" stroke-width="1"/>
<line x1="36.5" y1="162.5" x2="36.5" y2="158.5" stroke="#5a5a5a" stroke-width="1"/>
<line x1="73.5" y1="8.5" x2="73.5" y2="12.5" stroke="#5a5a5a" stroke-width="1"/>
<line x1="73.5" y1="162.5" x2="73.5" y2="158.5" stroke="#5a5a5a" stroke-width="1"/>
<line x1="109.5" y1="8.5" x2="109.5" y2="12.5" stroke="#5a5a5a" stroke-width="1"/>
<line x1="109.5" y1="162.5" x2="109.5" y2="158.5" stroke="#5a5a5a" stroke-width="1"/>
<line x1="145.5" y1="8.5" x2="145.5" y2="12.5" stroke="#5a5a5a" stroke-width="1"/>
<line x1="145.5" y1="162.5" x2="145.5" y2="158.5" stroke="#5a5a5a" stroke-width="1"/>
<line x1="181.5" y1="8.5" x2="181.5" y2="12.5" stroke="#5a5a5a" stroke-width="1"/>
<line x1="181.5" y1="162.5" x2="181.5" y2="158.5" stroke="#5a5a5a" stroke-width="1"/>
<line x1="217.5" y1="8.5" x2="217.5" y2="12.5" stroke="#5a5a5a" stroke-width="1"/>
<line x1="217.5" y1="162.5" x2="217.5" y2="158.5" stroke="#5a5a5a" stroke-width="1"/>
<line x1="253.5" y1="8.5" x2="253.5" y2="12.5" stroke="#5a5a5a" stroke-width="1"/>
<line x1="253.5" y1="162.5" x2="253.5" y2="158.5" stroke="#5a5a5a" stroke-width="1"/>
<line x1="289.5" y1="8.5" x2="289.5" y2="12.5" stroke="#5a5a5a" stroke-width="1"/>
<line x1="289.5" y1="162.5" x2="289.5" y2="158.5" stroke="#5a5a5a" stroke-width="1"/>
<line x1="326.5" y1="8.5" x2="326.5" y2="12.5" stroke="#5a5a5a" stroke-width="1"/>
<line x1="326.5" y1="162.5" x2="326.5" y2="158.5" stroke="#5a5a5a" stroke-width="1"/>
<line x1="55.5" y1="8.5" x2="55.5" y2="11.1" stroke="#5a5a5a" stroke-width="1"/>
<line x1="55.5" y1="162.5" x2="55.5" y2="159.9" stroke="#5a5a5a" stroke-width="1"/>
<line x1="91.5" y1="8.5" x2="91.5" y2="11.1" stroke="#5a5a5a" stroke-width="1"/>
<line x1="91.5" y1="162.5" x2="91.5" y2="159.9" stroke="#5a5a5a" stroke-width="1"/>
<line x1="127.5" y1="8.5" x2="127.5" y2="11.1" stroke="#5a5a5a" stroke-width="1"/>
<line x1="127.5" y1="162.5" x2="127.5" y2="159.9" stroke="#5a5a5a" stroke-width="1"/>
<line x1="163.5" y1="8.5" x2="163.5" y2="11.1" stroke="#5a5a5a" stroke-width="1"/>
<line x1="163.5" y1="162.5" x2="163.5" y2="159.9" stroke="#5a5a5a" stroke-width="1"/>
<line x1="199.5" y1="8.5" x2="199.5" y2="11.1" stroke="#5a5a5a" stroke-width="1"/>
<line x1="199.5" y1="162.5" x2="199.5" y2="159.9" stroke="#5a5a5a" stroke-width="1"/>
<line x1="235.5" y1="8.5" x2="235.5" y2="11.1" stroke="#5a5a5a" stroke-width="1"/>
<line x1="235.5" y1="162.5" x2="235.5" y2="159.9" stroke="#5a5a5a" stroke-width="1"/>
<line x1="271.5" y1="8.5" x2="271.5" y2="11.1" stroke="#5a5a5a" stroke-width="1"/>
<line x1="271.5" y1="162.5" x2="271.5" y2="159.9" stroke="#5a5a5a" stroke-width="1"/>
<line x1="307.5" y1="8.5" x2="307.5" y2="11.1" stroke="#5a5a5a" stroke-width="1"/>
<line x1="307.5" y1="162.5" x2="307.5" y2="159.9" stroke="#5a5a5a" stroke-width="1"/>
<line x1="344.5" y1="8.5" x2="344.5" y2="11.1" stroke="#5a5a5a" stroke-width="1"/>
<line x1="344.5" y1="162.5" x2="344.5" y2="159.9" stroke="#5a5a5a" stroke-width="1"/>
<line x1="36.5" y1="162.5" x2="36.5" y2="166.5" stroke="#5a5a5a" stroke-width="1"/>
<line x1="36.5" y1="315.5" x2="36.5" y2="311.5" stroke="#5a5a5a" stroke-width="1"/>
<line x1="73.5" y1="162.5" x2="73.5" y2="166.5" stroke="#5a5a5a" stroke-width="1"/>
<line x1="73.5" y1="315.5" x2="73.5" y2="311.5" stroke="#5a5a5a" stroke-width="1"/>
<line x1="109.5" y1="162.5" x2="109.5" y2="166.5" stroke="#5a5a5a" stroke-width="1"/>
<line x1="109.5" y1="315.5" x2="109.5" y2="311.5" stroke="#5a5a5a" stroke-width="1"/>
<line x1="145.5" y1="162.5" x2="145.5" y2="166.5" stroke="#5a5a5a" stroke-width="1"/>
<line x1="145.5" y1="315.5" x2="145.5" y2="311.5" stroke="#5a5a5a" stroke-width="1"/>
<line x1="181.5" y1="162.5" x2="181.5" y2="166.5" stroke="#5a5a5a" stroke-width="1"/>
<line x1="181.5" y1="315.5" x2="181.5" y2="311.5" stroke="#5a5a5a" stroke-width="1"/>
<line x1="217.5" y1="162.5" x2="217.5" y2="166.5" stroke="#5a5a5a" stroke-width="1"/>
<line x1="217.5" y1="315.5" x2="217.5" y2="311.5" stroke="#5a5a5a" stroke-width="1"/>
<line x1="253.5" y1="162.5" x2="253.5" y2="166.5" stroke="#5a5a5a" stroke-width="1"/>
<line x1="253.5" y1="315.5" x2="253.5" y2="311.5" stroke="#5a5a5a" stroke-width="1"/>
<line x1="289.5" y1="162.5" x2="289.5" y2="166.5" stroke="#5a5a5a" stroke-width="1"/>
<line x1="289.5" y1="315.5" x2="289.5" y2="311.5" stroke="#5a5a5a" stroke-width="1"/>
<line x1="326.5" y1="162.5" x2="326.5" y2="166.5" stroke="#5a5a5a" stroke-width="1"/>
<line x1="326.5" y1="315.5" x2="326.5" y2="311.5" stroke="#5a5a5a" stroke-width="1"/>
<line x1="55.5" y1="162.5" x2="55.5" y2="165.1" stroke="#5a5a5a" stroke-width="1"/>
<line x1="55.5" y1="315.5" x2="55.5" y2="312.9" stroke="#5a5a5a" stroke-width="1"/>
<line x1="91.5" y1="162.5" x2="91.5" y2="165.1" stroke="#5a5a5a" stroke-width="1"/>
<line x1="91.5" y1="315.5" x2="91.5" y2="312.9" stroke="#5a5a5a" stroke-width="1"/>
<line x1="127.5" y1="162.5" x2="127.5" y2="165.1" stroke="#5a5a5a" stroke-width="1"/>
<line x1="127.5" y1="315.5" x2="127.5" y2="312.9" stroke="#5a5a5a" stroke-width="1"/>
<line x1="163.5" y1="162.5" x2="163.5" y2="165.1" stroke="#5a5a5a" stroke-width="1"/>
<line x1="163.5" y1="315.5" x2="163.5" y2="312.9" stroke="#5a5a5a" stroke-width="1"/>
<line x1="199.5" y1="162.5" x2="199.5" y2="165.1" stroke="#5a5a5a" stroke-width="1"/>
<line x1="199.5" y1="315.5" x2="199.5" y2="312.9" stroke="#5a5a5a" stroke-width="1"/>
<line x1="235.5" y1="162.5" x2="235.5" y2="165.1" stroke="#5a5a5a" stroke-width="1"/>
<line x1="235.5" y1="315.5" x2="235.5" y2="312.9" stroke="#5a5a5a" stroke-width="1"/>
<line x1="271.5" y1="162.5" x2="271.5" y2="165.1" stroke="#5a5a5a" stroke-width="1"/>
<line x1="271.5" y1="315.5" x2="271.5" y2="312.9" stroke="#5a5a5a" stroke-width="1"/>
<line x1="307.5" y1="162.5" x2="307.5" y2="165.1" stroke="#5a5a5a" stroke-width="1"/>
<line x1="307.5" y1="315.5" x2="307.5" y2="312.9" stroke="#5a5a5a" stroke-width="1"/>
<line x1="344.5" y1="162.5" x2="344.5" y2="165.1" stroke="#5a5a5a" stroke-width="1"/>
<line x1="344.5" y1="315.5" x2="344.5" y2="312.9" stroke="#5a5a5a" stroke-width="1"/>
<line x1="31.5" y1="16.5" x2="35" y2="16.5" stroke="#5a5a5a" stroke-width="1"/>
<line x1="31.5" y1="42.5" x2="35" y2="42.5" stroke="#5a5a5a" stroke-width="1"/>
<line x1="31.5" y1="68.5" x2="35" y2="68.5" stroke="#5a5a5a" stroke-width="1"/>
<line x1="31.5" y1="94.5" x2="35" y2="94.5" stroke="#5a5a5a" stroke-width="1"/>
<line x1="31.5" y1="120.5" x2="35" y2="120.5" stroke="#5a5a5a" stroke-width="1"/>
<line x1="31.5" y1="146.5" x2="35" y2="146.5" stroke="#5a5a5a" stroke-width="1"/>
<line x1="31.5" y1="29.5" x2="33.7" y2="29.5" stroke="#5a5a5a" stroke-width="0.9"/>
<line x1="31.5" y1="55.5" x2="33.7" y2="55.5" stroke="#5a5a5a" stroke-width="0.9"/>
<line x1="31.5" y1="81.5" x2="33.7" y2="81.5" stroke="#5a5a5a" stroke-width="0.9"/>
<line x1="31.5" y1="107.5" x2="33.7" y2="107.5" stroke="#5a5a5a" stroke-width="0.9"/>
<line x1="31.5" y1="133.5" x2="33.7" y2="133.5" stroke="#5a5a5a" stroke-width="0.9"/>
<line x1="31.5" y1="159.5" x2="33.7" y2="159.5" stroke="#5a5a5a" stroke-width="0.9"/>
<line x1="346.5" y1="21.5" x2="343" y2="21.5" stroke="#5a5a5a" stroke-width="1"/>
<line x1="346.5" y1="47.5" x2="343" y2="47.5" stroke="#5a5a5a" stroke-width="1"/>
<line x1="346.5" y1="73.5" x2="343" y2="73.5" stroke="#5a5a5a" stroke-width="1"/>
<line x1="346.5" y1="99.5" x2="343" y2="99.5" stroke="#5a5a5a" stroke-width="1"/>
<line x1="346.5" y1="125.5" x2="343" y2="125.5" stroke="#5a5a5a" stroke-width="1"/>
<line x1="346.5" y1="151.5" x2="343" y2="151.5" stroke="#5a5a5a" stroke-width="1"/>
<line x1="346.5" y1="34.5" x2="344.3" y2="34.5" stroke="#5a5a5a" stroke-width="0.9"/>
<line x1="346.5" y1="60.5" x2="344.3" y2="60.5" stroke="#5a5a5a" stroke-width="0.9"/>
<line x1="346.5" y1="86.5" x2="344.3" y2="86.5" stroke="#5a5a5a" stroke-width="0.9"/>
<line x1="346.5" y1="112.5" x2="344.3" y2="112.5" stroke="#5a5a5a" stroke-width="0.9"/>
<line x1="346.5" y1="138.5" x2="344.3" y2="138.5" stroke="#5a5a5a" stroke-width="0.9"/>
<line x1="31.5" y1="171.5" x2="35" y2="171.5" stroke="#5a5a5a" stroke-width="1"/>
<line x1="31.5" y1="197.5" x2="35" y2="197.5" stroke="#5a5a5a" stroke-width="1"/>
<line x1="31.5" y1="222.5" x2="35" y2="222.5" stroke="#5a5a5a" stroke-width="1"/>
<line x1="31.5" y1="248.5" x2="35" y2="248.5" stroke="#5a5a5a" stroke-width="1"/>
<line x1="31.5" y1="274.5" x2="35" y2="274.5" stroke="#5a5a5a" stroke-width="1"/>
<line x1="31.5" y1="300.5" x2="35" y2="300.5" stroke="#5a5a5a" stroke-width="1"/>
<line x1="31.5" y1="184.5" x2="33.7" y2="184.5" stroke="#5a5a5a" stroke-width="0.9"/>
<line x1="31.5" y1="210.5" x2="33.7" y2="210.5" stroke="#5a5a5a" stroke-width="0.9"/>
<line x1="31.5" y1="235.5" x2="33.7" y2="235.5" stroke="#5a5a5a" stroke-width="0.9"/>
<line x1="31.5" y1="261.5" x2="33.7" y2="261.5" stroke="#5a5a5a" stroke-width="0.9"/>
<line x1="31.5" y1="287.5" x2="33.7" y2="287.5" stroke="#5a5a5a" stroke-width="0.9"/>
<line x1="31.5" y1="313.5" x2="33.7" y2="313.5" stroke="#5a5a5a" stroke-width="0.9"/>
<line x1="346.5" y1="175.5" x2="343" y2="175.5" stroke="#5a5a5a" stroke-width="1"/>
<line x1="346.5" y1="201.5" x2="343" y2="201.5" stroke="#5a5a5a" stroke-width="1"/>
<line x1="346.5" y1="227.5" x2="343" y2="227.5" stroke="#5a5a5a" stroke-width="1"/>
<line x1="346.5" y1="253.5" x2="343" y2="253.5" stroke="#5a5a5a" stroke-width="1"/>
<line x1="346.5" y1="279.5" x2="343" y2="279.5" stroke="#5a5a5a" stroke-width="1"/>
<line x1="346.5" y1="305.5" x2="343" y2="305.5" stroke="#5a5a5a" stroke-width="1"/>
<line x1="346.5" y1="188.5" x2="344.3" y2="188.5" stroke="#5a5a5a" stroke-width="0.9"/>
<line x1="346.5" y1="214.5" x2="344.3" y2="214.5" stroke="#5a5a5a" stroke-width="0.9"/>
<line x1="346.5" y1="240.5" x2="344.3" y2="240.5" stroke="#5a5a5a" stroke-width="0.9"/>
<line x1="346.5" y1="266.5" x2="344.3" y2="266.5" stroke="#5a5a5a" stroke-width="0.9"/>
<line x1="346.5" y1="292.5" x2="344.3" y2="292.5" stroke="#5a5a5a" stroke-width="0.9"/>
<text x="0" y="0" font-size="10.2" text-anchor="end" fill="#1e1e1e" transform="translate(30.5 21.15) scale(1 1.16)">-15</text>
<text x="0" y="0" font-size="10.2" text-anchor="end" fill="#1e1e1e" transform="translate(30.5 175.95) scale(1 1.16)">-15</text>
<text x="0" y="0" font-size="10.2" text-anchor="end" fill="#1e1e1e" transform="translate(30.5 47.15) scale(1 1.16)">-14</text>
<text x="0" y="0" font-size="10.2" text-anchor="end" fill="#1e1e1e" transform="translate(30.5 201.75) scale(1 1.16)">-14</text>
<text x="0" y="0" font-size="10.2" text-anchor="end" fill="#1e1e1e" transform="translate(30.5 73.15) scale(1 1.16)">-13</text>
<text x="0" y="0" font-size="10.2" text-anchor="end" fill="#1e1e1e" transform="translate(30.5 227.55) scale(1 1.16)">-13</text>
<text x="0" y="0" font-size="10.2" text-anchor="end" fill="#1e1e1e" transform="translate(30.5 99.15) scale(1 1.16)">-12</text>
<text x="0" y="0" font-size="10.2" text-anchor="end" fill="#1e1e1e" transform="translate(30.5 253.35) scale(1 1.16)">-12</text>
<text x="0" y="0" font-size="10.2" text-anchor="end" fill="#1e1e1e" transform="translate(30.5 125.15) scale(1 1.16)">-11</text>
<text x="0" y="0" font-size="10.2" text-anchor="end" fill="#1e1e1e" transform="translate(30.5 279.15) scale(1 1.16)">-11</text>
<text x="0" y="0" font-size="10.2" text-anchor="end" fill="#1e1e1e" transform="translate(30.5 151.15) scale(1 1.16)">-10</text>
<text x="0" y="0" font-size="10.2" text-anchor="end" fill="#1e1e1e" transform="translate(30.5 304.95) scale(1 1.16)">-10</text>
<text x="0" y="0" font-size="10.2" text-anchor="start" fill="#1e1e1e" transform="translate(347.3 25.85) scale(1 1.16)">18</text>
<text x="0" y="0" font-size="10.2" text-anchor="start" fill="#1e1e1e" transform="translate(347.3 179.95) scale(1 1.16)">18</text>
<text x="0" y="0" font-size="10.2" text-anchor="start" fill="#1e1e1e" transform="translate(347.3 51.85) scale(1 1.16)">19</text>
<text x="0" y="0" font-size="10.2" text-anchor="start" fill="#1e1e1e" transform="translate(347.3 205.95) scale(1 1.16)">19</text>
<text x="0" y="0" font-size="10.2" text-anchor="start" fill="#1e1e1e" transform="translate(347.3 77.85) scale(1 1.16)">20</text>
<text x="0" y="0" font-size="10.2" text-anchor="start" fill="#1e1e1e" transform="translate(347.3 231.95) scale(1 1.16)">20</text>
<text x="0" y="0" font-size="10.2" text-anchor="start" fill="#1e1e1e" transform="translate(347.3 103.85) scale(1 1.16)">21</text>
<text x="0" y="0" font-size="10.2" text-anchor="start" fill="#1e1e1e" transform="translate(347.3 257.95) scale(1 1.16)">21</text>
<text x="0" y="0" font-size="10.2" text-anchor="start" fill="#1e1e1e" transform="translate(347.3 129.85) scale(1 1.16)">22</text>
<text x="0" y="0" font-size="10.2" text-anchor="start" fill="#1e1e1e" transform="translate(347.3 283.95) scale(1 1.16)">22</text>
<text x="0" y="0" font-size="10.2" text-anchor="start" fill="#1e1e1e" transform="translate(347.3 155.85) scale(1 1.16)">23</text>
<text x="0" y="0" font-size="10.2" text-anchor="start" fill="#1e1e1e" transform="translate(347.3 309.95) scale(1 1.16)">23</text>
<text x="0" y="0" font-size="10.6" text-anchor="middle" fill="#1e1e1e" transform="translate(37.09 324.8) scale(1 1.12)">-240</text>
<text x="0" y="0" font-size="10.6" text-anchor="middle" fill="#1e1e1e" transform="translate(73.22 324.8) scale(1 1.12)">-210</text>
<text x="0" y="0" font-size="10.6" text-anchor="middle" fill="#1e1e1e" transform="translate(109.34 324.8) scale(1 1.12)">-180</text>
<text x="0" y="0" font-size="10.6" text-anchor="middle" fill="#1e1e1e" transform="translate(145.47 324.8) scale(1 1.12)">-150</text>
<text x="0" y="0" font-size="10.6" text-anchor="middle" fill="#1e1e1e" transform="translate(181.6 324.8) scale(1 1.12)">-120</text>
<text x="0" y="0" font-size="10.6" text-anchor="middle" fill="#1e1e1e" transform="translate(217.72 324.8) scale(1 1.12)">-90</text>
<text x="0" y="0" font-size="10.6" text-anchor="middle" fill="#1e1e1e" transform="translate(253.85 324.8) scale(1 1.12)">-60</text>
<text x="0" y="0" font-size="10.6" text-anchor="middle" fill="#1e1e1e" transform="translate(289.97 324.8) scale(1 1.12)">-30</text>
<text x="0" y="0" font-size="10.6" text-anchor="middle" fill="#1e1e1e" transform="translate(326.1 324.8) scale(1 1.12)">0</text>
<text x="0" y="0" font-size="15" text-anchor="middle" fill="#1e1e1e" transform="translate(13.6 85) rotate(-90)">Absolute Magnitude</text>
<text x="0" y="0" font-size="15" text-anchor="middle" fill="#1e1e1e" transform="translate(13.6 238.3) rotate(-90)">Absolute Magnitude</text>
<text x="0" y="0" font-size="15" text-anchor="middle" fill="#1e1e1e" transform="translate(361.5 85.7) rotate(90)">Apparent Magnitude</text>
<text x="0" y="0" font-size="15" text-anchor="middle" fill="#1e1e1e" transform="translate(361.5 239.5) rotate(90)">Apparent Magnitude</text>
<text x="188.8" y="337.8" font-size="15" text-anchor="middle" fill="#1e1e1e" >Rest-frame Days Relative to First Light</text>
<text x="185" y="379.3" font-size="13" text-anchor="middle" fill="#1e1e1e" >(a)</text>
<rect x="36" y="13.6" width="136.4" height="29.7" rx="2" ry="2" fill="#fff" fill-opacity="0.85" stroke="#e0e0e0" stroke-width="0.8"/>
<polygon points="49.1,17.6 45.3,24.8 52.9,24.8" fill="#00f4f4" fill-opacity="1" stroke="#00c8c8" stroke-opacity="1.000" stroke-width="0.6" stroke-linejoin="miter"/>
<polygon points="49.1,31.6 45.3,38.8 52.9,38.8" fill="#ff9900" fill-opacity="1" stroke="#d07800" stroke-opacity="1.000" stroke-width="0.6" stroke-linejoin="miter"/>
<rect x="126.1" y="17.4" width="7.6" height="7.6" fill="#007800" fill-opacity="1" stroke="#005a00" stroke-opacity="1.000" stroke-width="0.5"/>
<text x="66.4" y="24.7" font-size="10.2" text-anchor="start" fill="#2a2a2a"  textLength="35.4" lengthAdjust="spacingAndGlyphs">ATLAS c</text>
<text x="66.4" y="38.3" font-size="10.2" text-anchor="start" fill="#2a2a2a"  textLength="35.4" lengthAdjust="spacingAndGlyphs">ATLAS o</text>
<text x="147.3" y="24.7" font-size="10.2" text-anchor="start" fill="#2a2a2a"  textLength="22.3" lengthAdjust="spacingAndGlyphs">PS1 g</text>
<rect x="36.4" y="167.3" width="123.2" height="28.7" rx="2" ry="2" fill="#fff" fill-opacity="0.85" stroke="#e0e0e0" stroke-width="0.8"/>
<circle cx="48.7" cy="174.3" r="3.8" fill="#ff0000" fill-opacity="1" stroke="#ff0000" stroke-opacity="1.000" stroke-width="0.4"/>
<rect x="44.9" y="184.8" width="7.6" height="7.6" fill="#b8860b" fill-opacity="1" stroke="#b8860b" stroke-opacity="1.000" stroke-width="0.4"/>
<rect x="113.9" y="170.5" width="7.8" height="7.8" fill="#ff0000" fill-opacity="1" stroke="#ff0000" stroke-opacity="1.000" stroke-width="0.4"/>
<rect x="113.9" y="184.6" width="7.8" height="7.8" fill="#a52a2a" fill-opacity="1" stroke="#a52a2a" stroke-opacity="1.000" stroke-width="0.4"/>
<text x="66" y="178" font-size="10.2" text-anchor="start" fill="#2a2a2a"  textLength="23.5" lengthAdjust="spacingAndGlyphs">ZTF r</text>
<text x="66.6" y="191.6" font-size="10.2" text-anchor="start" fill="#2a2a2a"  textLength="19.7" lengthAdjust="spacingAndGlyphs">PS1 i</text>
<text x="135" y="178" font-size="10.2" text-anchor="start" fill="#2a2a2a"  textLength="20.9" lengthAdjust="spacingAndGlyphs">PS1 r</text>
<text x="135" y="191.6" font-size="10.2" text-anchor="start" fill="#2a2a2a"  textLength="21.3" lengthAdjust="spacingAndGlyphs">PS1 z</text>
<line x1="414.5" y1="93.4" x2="735.5" y2="93.4" stroke="#1a1a1a" stroke-width="1.3" stroke-dasharray="3.4 1.8"/>
<clipPath id="cbt"><rect x="414.8" y="11.5" width="320.4" height="156.2"/></clipPath><g clip-path="url(#cbt)">
<line x1="426.5" y1="66" x2="426.5" y2="91" stroke="#156c00" stroke-opacity="0.18" stroke-width="1"/>
<line x1="419.3" y1="104" x2="419.3" y2="158.6" stroke="#156c00" stroke-opacity="0.18" stroke-width="1"/>
<line x1="440.3" y1="82" x2="440.3" y2="97" stroke="#156c00" stroke-opacity="0.18" stroke-width="1"/>
<line x1="435.1" y1="89.3" x2="435.1" y2="101.3" stroke="#156c00" stroke-opacity="0.18" stroke-width="1"/>
<line x1="443.2" y1="92.7" x2="443.2" y2="104.7" stroke="#156c00" stroke-opacity="0.18" stroke-width="1"/>
<line x1="446.7" y1="98" x2="446.7" y2="115" stroke="#156c00" stroke-opacity="0.18" stroke-width="1"/>
<line x1="454.7" y1="102.5" x2="454.7" y2="127" stroke="#156c00" stroke-opacity="0.18" stroke-width="1"/>
<line x1="467.7" y1="95" x2="467.7" y2="107" stroke="#156c00" stroke-opacity="0.18" stroke-width="1"/>
<line x1="471.1" y1="99" x2="471.1" y2="114" stroke="#156c00" stroke-opacity="0.18" stroke-width="1"/>
<line x1="474" y1="78" x2="474" y2="95" stroke="#156c00" stroke-opacity="0.18" stroke-width="1"/>
<line x1="477.7" y1="101" x2="477.7" y2="130" stroke="#156c00" stroke-opacity="0.18" stroke-width="1"/>
<line x1="481.2" y1="92.7" x2="481.2" y2="104.7" stroke="#156c00" stroke-opacity="0.18" stroke-width="1"/>
<line x1="484.1" y1="117" x2="484.1" y2="165" stroke="#156c00" stroke-opacity="0.18" stroke-width="1"/>
<line x1="492.7" y1="95" x2="492.7" y2="107" stroke="#156c00" stroke-opacity="0.18" stroke-width="1"/>
<line x1="501.3" y1="91.6" x2="501.3" y2="103.6" stroke="#156c00" stroke-opacity="0.18" stroke-width="1"/>
<line x1="507.7" y1="78" x2="507.7" y2="98" stroke="#156c00" stroke-opacity="0.18" stroke-width="1"/>
<line x1="514.3" y1="122" x2="514.3" y2="167.7" stroke="#156c00" stroke-opacity="0.18" stroke-width="1"/>
<line x1="538.6" y1="81.2" x2="538.6" y2="93.2" stroke="#156c00" stroke-opacity="0.18" stroke-width="1"/>
<line x1="534.3" y1="89.3" x2="534.3" y2="101.3" stroke="#156c00" stroke-opacity="0.18" stroke-width="1"/>
<line x1="543" y1="92" x2="543" y2="111" stroke="#156c00" stroke-opacity="0.18" stroke-width="1"/>
<line x1="555.3" y1="76.3" x2="555.3" y2="88.3" stroke="#156c00" stroke-opacity="0.18" stroke-width="1"/>
<line x1="566.8" y1="78.4" x2="566.8" y2="90.4" stroke="#156c00" stroke-opacity="0.18" stroke-width="1"/>
<line x1="573.2" y1="63" x2="573.2" y2="81" stroke="#156c00" stroke-opacity="0.18" stroke-width="1"/>
<line x1="579.5" y1="60.8" x2="579.5" y2="128.4" stroke="#156c00" stroke-opacity="0.18" stroke-width="1"/>
<line x1="589.9" y1="69" x2="589.9" y2="108" stroke="#156c00" stroke-opacity="0.18" stroke-width="1"/>
<line x1="576.6" y1="83" x2="576.6" y2="95" stroke="#156c00" stroke-opacity="0.18" stroke-width="1"/>
<line x1="570.3" y1="93.6" x2="570.3" y2="105.6" stroke="#156c00" stroke-opacity="0.18" stroke-width="1"/>
<line x1="579.5" y1="97.3" x2="579.5" y2="109.3" stroke="#156c00" stroke-opacity="0.18" stroke-width="1"/>
<line x1="583.2" y1="95.6" x2="583.2" y2="107.6" stroke="#156c00" stroke-opacity="0.18" stroke-width="1"/>
<line x1="596.8" y1="80.7" x2="596.8" y2="92.7" stroke="#156c00" stroke-opacity="0.18" stroke-width="1"/>
<line x1="603.4" y1="96.5" x2="603.4" y2="108.5" stroke="#156c00" stroke-opacity="0.18" stroke-width="1"/>
<line x1="606.3" y1="101" x2="606.3" y2="120" stroke="#156c00" stroke-opacity="0.18" stroke-width="1"/>
<line x1="610.6" y1="74.3" x2="610.6" y2="86.3" stroke="#156c00" stroke-opacity="0.18" stroke-width="1"/>
<line x1="616.3" y1="97.3" x2="616.3" y2="109.3" stroke="#156c00" stroke-opacity="0.18" stroke-width="1"/>
<line x1="619.2" y1="90.7" x2="619.2" y2="102.7" stroke="#156c00" stroke-opacity="0.18" stroke-width="1"/>
<line x1="624.4" y1="76.3" x2="624.4" y2="88.3" stroke="#156c00" stroke-opacity="0.18" stroke-width="1"/>
<line x1="627.8" y1="90.2" x2="627.8" y2="102.2" stroke="#156c00" stroke-opacity="0.18" stroke-width="1"/>
<line x1="633.6" y1="81.2" x2="633.6" y2="93.2" stroke="#156c00" stroke-opacity="0.18" stroke-width="1"/>
<line x1="638.8" y1="63" x2="638.8" y2="90" stroke="#156c00" stroke-opacity="0.18" stroke-width="1"/>
<line x1="643.7" y1="81.2" x2="643.7" y2="93.2" stroke="#156c00" stroke-opacity="0.18" stroke-width="1"/>
<line x1="647.4" y1="115.2" x2="647.4" y2="127.2" stroke="#156c00" stroke-opacity="0.18" stroke-width="1"/>
<line x1="646.5" y1="90.7" x2="646.5" y2="102.7" stroke="#156c00" stroke-opacity="0.18" stroke-width="1"/>
<line x1="649.4" y1="80.2" x2="649.4" y2="92.2" stroke="#156c00" stroke-opacity="0.18" stroke-width="1"/>
<line x1="654.6" y1="80.2" x2="654.6" y2="92.2" stroke="#156c00" stroke-opacity="0.18" stroke-width="1"/>
<line x1="658.1" y1="78.8" x2="658.1" y2="90.8" stroke="#156c00" stroke-opacity="0.18" stroke-width="1"/>
<line x1="650.9" y1="93.2" x2="650.9" y2="105.2" stroke="#156c00" stroke-opacity="0.18" stroke-width="1"/>
<line x1="653.7" y1="94.6" x2="653.7" y2="106.6" stroke="#156c00" stroke-opacity="0.18" stroke-width="1"/>
<line x1="663.8" y1="93.2" x2="663.8" y2="105.2" stroke="#156c00" stroke-opacity="0.18" stroke-width="1"/>
<line x1="660.4" y1="101.2" x2="660.4" y2="113.2" stroke="#156c00" stroke-opacity="0.18" stroke-width="1"/>
<line x1="677.7" y1="62" x2="677.7" y2="105" stroke="#156c00" stroke-opacity="0.18" stroke-width="1"/>
<line x1="459.6" y1="71" x2="459.6" y2="100.8" stroke="#156c00" stroke-opacity="0.18" stroke-width="1"/>
<line x1="458.2" y1="85.8" x2="458.2" y2="97.8" stroke="#156c00" stroke-opacity="0.18" stroke-width="1"/>
<line x1="558.2" y1="77.8" x2="558.2" y2="89.8" stroke="#156c00" stroke-opacity="0.18" stroke-width="1"/>
<line x1="561.7" y1="78.4" x2="561.7" y2="90.4" stroke="#156c00" stroke-opacity="0.18" stroke-width="1"/>
<line x1="587" y1="79.2" x2="587" y2="91.2" stroke="#156c00" stroke-opacity="0.18" stroke-width="1"/>
<line x1="589" y1="89.3" x2="589" y2="101.3" stroke="#156c00" stroke-opacity="0.18" stroke-width="1"/>
<line x1="625.5" y1="56.4" x2="625.5" y2="83.8" stroke="#156c00" stroke-opacity="0.18" stroke-width="1"/>
<line x1="696.4" y1="43" x2="696.4" y2="77.5" stroke="#156c00" stroke-opacity="0.18" stroke-width="1"/>
<line x1="689.2" y1="69" x2="689.2" y2="98" stroke="#156c00" stroke-opacity="0.18" stroke-width="1"/>
<line x1="653.7" y1="111" x2="653.7" y2="134" stroke="#156c00" stroke-opacity="0.18" stroke-width="1"/>
<line x1="663.2" y1="116" x2="663.2" y2="140" stroke="#156c00" stroke-opacity="0.18" stroke-width="1"/>
<line x1="435.5" y1="92.7" x2="435.5" y2="100.7" stroke="#ff8c00" stroke-opacity="0.15" stroke-width="1"/>
<line x1="455.1" y1="82.9" x2="455.1" y2="90.9" stroke="#ff8c00" stroke-opacity="0.15" stroke-width="1"/>
<line x1="458.2" y1="95.8" x2="458.2" y2="103.8" stroke="#ff8c00" stroke-opacity="0.15" stroke-width="1"/>
<line x1="461.3" y1="87.4" x2="461.3" y2="95.4" stroke="#ff8c00" stroke-opacity="0.15" stroke-width="1"/>
<line x1="463.1" y1="91.8" x2="463.1" y2="99.8" stroke="#ff8c00" stroke-opacity="0.15" stroke-width="1"/>
<line x1="466.6" y1="90.5" x2="466.6" y2="98.5" stroke="#ff8c00" stroke-opacity="0.15" stroke-width="1"/>
<line x1="470.2" y1="92.7" x2="470.2" y2="100.7" stroke="#ff8c00" stroke-opacity="0.15" stroke-width="1"/>
<line x1="476.4" y1="92.7" x2="476.4" y2="100.7" stroke="#ff8c00" stroke-opacity="0.15" stroke-width="1"/>
<line x1="488.9" y1="88.2" x2="488.9" y2="96.2" stroke="#ff8c00" stroke-opacity="0.15" stroke-width="1"/>
<line x1="497.8" y1="93.1" x2="497.8" y2="101.1" stroke="#ff8c00" stroke-opacity="0.15" stroke-width="1"/>
<line x1="502.3" y1="85.6" x2="502.3" y2="93.6" stroke="#ff8c00" stroke-opacity="0.15" stroke-width="1"/>
<line x1="506.7" y1="87.4" x2="506.7" y2="95.4" stroke="#ff8c00" stroke-opacity="0.15" stroke-width="1"/>
<line x1="510.7" y1="93.1" x2="510.7" y2="101.1" stroke="#ff8c00" stroke-opacity="0.15" stroke-width="1"/>
<line x1="515.6" y1="96.7" x2="515.6" y2="104.7" stroke="#ff8c00" stroke-opacity="0.15" stroke-width="1"/>
<line x1="533.4" y1="91.4" x2="533.4" y2="99.4" stroke="#ff8c00" stroke-opacity="0.15" stroke-width="1"/>
<line x1="537" y1="92.7" x2="537" y2="100.7" stroke="#ff8c00" stroke-opacity="0.15" stroke-width="1"/>
<line x1="540.6" y1="92.3" x2="540.6" y2="100.3" stroke="#ff8c00" stroke-opacity="0.15" stroke-width="1"/>
<line x1="544.1" y1="91.8" x2="544.1" y2="99.8" stroke="#ff8c00" stroke-opacity="0.15" stroke-width="1"/>
<line x1="547.3" y1="86.1" x2="547.3" y2="94.1" stroke="#ff8c00" stroke-opacity="0.15" stroke-width="1"/>
<line x1="551" y1="91" x2="551" y2="99" stroke="#ff8c00" stroke-opacity="0.15" stroke-width="1"/>
<line x1="556.3" y1="94.6" x2="556.3" y2="102.6" stroke="#ff8c00" stroke-opacity="0.15" stroke-width="1"/>
<line x1="563.2" y1="91.1" x2="563.2" y2="99.1" stroke="#ff8c00" stroke-opacity="0.15" stroke-width="1"/>
<line x1="570.1" y1="92" x2="570.1" y2="100" stroke="#ff8c00" stroke-opacity="0.15" stroke-width="1"/>
<line x1="574.9" y1="89.8" x2="574.9" y2="97.8" stroke="#ff8c00" stroke-opacity="0.15" stroke-width="1"/>
<line x1="577.9" y1="87.2" x2="577.9" y2="95.2" stroke="#ff8c00" stroke-opacity="0.15" stroke-width="1"/>
<line x1="580" y1="96.7" x2="580" y2="104.7" stroke="#ff8c00" stroke-opacity="0.15" stroke-width="1"/>
<line x1="582.6" y1="85.5" x2="582.6" y2="93.5" stroke="#ff8c00" stroke-opacity="0.15" stroke-width="1"/>
<line x1="584.8" y1="92.4" x2="584.8" y2="100.4" stroke="#ff8c00" stroke-opacity="0.15" stroke-width="1"/>
<line x1="590.4" y1="92.8" x2="590.4" y2="100.8" stroke="#ff8c00" stroke-opacity="0.15" stroke-width="1"/>
<line x1="592.1" y1="94.1" x2="592.1" y2="102.1" stroke="#ff8c00" stroke-opacity="0.15" stroke-width="1"/>
<line x1="595.6" y1="89.8" x2="595.6" y2="97.8" stroke="#ff8c00" stroke-opacity="0.15" stroke-width="1"/>
<line x1="598.6" y1="92" x2="598.6" y2="100" stroke="#ff8c00" stroke-opacity="0.15" stroke-width="1"/>
<line x1="601.6" y1="92.8" x2="601.6" y2="100.8" stroke="#ff8c00" stroke-opacity="0.15" stroke-width="1"/>
<line x1="604.2" y1="91.1" x2="604.2" y2="99.1" stroke="#ff8c00" stroke-opacity="0.15" stroke-width="1"/>
<line x1="606.8" y1="84.6" x2="606.8" y2="92.6" stroke="#ff8c00" stroke-opacity="0.15" stroke-width="1"/>
<line x1="610.3" y1="83.8" x2="610.3" y2="91.8" stroke="#ff8c00" stroke-opacity="0.15" stroke-width="1"/>
<line x1="612" y1="85.5" x2="612" y2="93.5" stroke="#ff8c00" stroke-opacity="0.15" stroke-width="1"/>
<line x1="614.6" y1="90.7" x2="614.6" y2="98.7" stroke="#ff8c00" stroke-opacity="0.15" stroke-width="1"/>
<line x1="615.8" y1="65.4" x2="615.8" y2="73.4" stroke="#ff8c00" stroke-opacity="0.15" stroke-width="1"/>
<line x1="617.9" y1="87" x2="617.9" y2="95" stroke="#ff8c00" stroke-opacity="0.15" stroke-width="1"/>
<line x1="621.3" y1="92.3" x2="621.3" y2="100.3" stroke="#ff8c00" stroke-opacity="0.15" stroke-width="1"/>
<line x1="626.6" y1="97.6" x2="626.6" y2="105.6" stroke="#ff8c00" stroke-opacity="0.15" stroke-width="1"/>
<line x1="634.4" y1="91.8" x2="634.4" y2="99.8" stroke="#ff8c00" stroke-opacity="0.15" stroke-width="1"/>
<line x1="637.8" y1="85" x2="637.8" y2="93" stroke="#ff8c00" stroke-opacity="0.15" stroke-width="1"/>
<line x1="639.7" y1="95.2" x2="639.7" y2="103.2" stroke="#ff8c00" stroke-opacity="0.15" stroke-width="1"/>
<line x1="642.6" y1="88.9" x2="642.6" y2="96.9" stroke="#ff8c00" stroke-opacity="0.15" stroke-width="1"/>
<line x1="645" y1="85.5" x2="645" y2="93.5" stroke="#ff8c00" stroke-opacity="0.15" stroke-width="1"/>
<line x1="648.4" y1="87.5" x2="648.4" y2="95.5" stroke="#ff8c00" stroke-opacity="0.15" stroke-width="1"/>
<line x1="657.6" y1="85.5" x2="657.6" y2="93.5" stroke="#ff8c00" stroke-opacity="0.15" stroke-width="1"/>
<line x1="662.5" y1="86" x2="662.5" y2="94" stroke="#ff8c00" stroke-opacity="0.15" stroke-width="1"/>
<line x1="667.8" y1="92.8" x2="667.8" y2="100.8" stroke="#ff8c00" stroke-opacity="0.15" stroke-width="1"/>
<line x1="671.2" y1="87" x2="671.2" y2="95" stroke="#ff8c00" stroke-opacity="0.15" stroke-width="1"/>
<line x1="674.1" y1="86.5" x2="674.1" y2="94.5" stroke="#ff8c00" stroke-opacity="0.15" stroke-width="1"/>
<line x1="676" y1="92.8" x2="676" y2="100.8" stroke="#ff8c00" stroke-opacity="0.15" stroke-width="1"/>
<line x1="679" y1="85.5" x2="679" y2="93.5" stroke="#ff8c00" stroke-opacity="0.15" stroke-width="1"/>
<line x1="684.5" y1="91.3" x2="684.5" y2="99.3" stroke="#ff8c00" stroke-opacity="0.15" stroke-width="1"/>
<line x1="692.8" y1="91.8" x2="692.8" y2="99.8" stroke="#ff8c00" stroke-opacity="0.15" stroke-width="1"/>
<line x1="697.6" y1="94.3" x2="697.6" y2="102.3" stroke="#ff8c00" stroke-opacity="0.15" stroke-width="1"/>
<line x1="701" y1="94.3" x2="701" y2="102.3" stroke="#ff8c00" stroke-opacity="0.15" stroke-width="1"/>
<line x1="709.2" y1="86.5" x2="709.2" y2="94.5" stroke="#ff8c00" stroke-opacity="0.15" stroke-width="1"/>
<circle cx="426.5" cy="78.6" r="3.7" fill="#156c00" fill-opacity="0.175" stroke="#156c00" stroke-opacity="0.061" stroke-width="0.7"/>
<circle cx="419.3" cy="131.3" r="3.7" fill="#156c00" fill-opacity="0.175" stroke="#156c00" stroke-opacity="0.061" stroke-width="0.7"/>
<circle cx="440.3" cy="89" r="3.7" fill="#156c00" fill-opacity="0.175" stroke="#156c00" stroke-opacity="0.061" stroke-width="0.7"/>
<circle cx="435.1" cy="95.3" r="3.7" fill="#156c00" fill-opacity="0.175" stroke="#156c00" stroke-opacity="0.061" stroke-width="0.7"/>
<circle cx="443.2" cy="98.7" r="3.7" fill="#156c00" fill-opacity="0.175" stroke="#156c00" stroke-opacity="0.061" stroke-width="0.7"/>
<circle cx="446.7" cy="106.8" r="3.7" fill="#156c00" fill-opacity="0.175" stroke="#156c00" stroke-opacity="0.061" stroke-width="0.7"/>
<circle cx="454.7" cy="114.6" r="3.7" fill="#156c00" fill-opacity="0.175" stroke="#156c00" stroke-opacity="0.061" stroke-width="0.7"/>
<circle cx="467.7" cy="101" r="3.7" fill="#156c00" fill-opacity="0.175" stroke="#156c00" stroke-opacity="0.061" stroke-width="0.7"/>
<circle cx="471.1" cy="106.2" r="3.7" fill="#156c00" fill-opacity="0.175" stroke="#156c00" stroke-opacity="0.061" stroke-width="0.7"/>
<circle cx="474" cy="88.1" r="3.7" fill="#156c00" fill-opacity="0.175" stroke="#156c00" stroke-opacity="0.061" stroke-width="0.7"/>
<circle cx="477.7" cy="117.4" r="3.7" fill="#156c00" fill-opacity="0.175" stroke="#156c00" stroke-opacity="0.061" stroke-width="0.7"/>
<circle cx="481.2" cy="98.7" r="3.7" fill="#156c00" fill-opacity="0.175" stroke="#156c00" stroke-opacity="0.061" stroke-width="0.7"/>
<circle cx="484.1" cy="137.9" r="3.7" fill="#156c00" fill-opacity="0.175" stroke="#156c00" stroke-opacity="0.061" stroke-width="0.7"/>
<circle cx="492.7" cy="101" r="3.7" fill="#156c00" fill-opacity="0.175" stroke="#156c00" stroke-opacity="0.061" stroke-width="0.7"/>
<circle cx="501.3" cy="97.6" r="3.7" fill="#156c00" fill-opacity="0.175" stroke="#156c00" stroke-opacity="0.061" stroke-width="0.7"/>
<circle cx="507.7" cy="87.2" r="3.7" fill="#156c00" fill-opacity="0.175" stroke="#156c00" stroke-opacity="0.061" stroke-width="0.7"/>
<circle cx="514.3" cy="165.5" r="3.7" fill="#156c00" fill-opacity="0.175" stroke="#156c00" stroke-opacity="0.061" stroke-width="0.7"/>
<circle cx="538.6" cy="87.2" r="3.7" fill="#156c00" fill-opacity="0.175" stroke="#156c00" stroke-opacity="0.061" stroke-width="0.7"/>
<circle cx="534.3" cy="95.3" r="3.7" fill="#156c00" fill-opacity="0.175" stroke="#156c00" stroke-opacity="0.061" stroke-width="0.7"/>
<circle cx="543" cy="99.6" r="3.7" fill="#156c00" fill-opacity="0.175" stroke="#156c00" stroke-opacity="0.061" stroke-width="0.7"/>
<circle cx="555.3" cy="82.3" r="3.7" fill="#156c00" fill-opacity="0.175" stroke="#156c00" stroke-opacity="0.061" stroke-width="0.7"/>
<circle cx="566.8" cy="84.4" r="3.7" fill="#156c00" fill-opacity="0.175" stroke="#156c00" stroke-opacity="0.061" stroke-width="0.7"/>
<circle cx="573.2" cy="71.7" r="3.7" fill="#156c00" fill-opacity="0.175" stroke="#156c00" stroke-opacity="0.061" stroke-width="0.7"/>
<circle cx="579.5" cy="80.9" r="3.7" fill="#156c00" fill-opacity="0.175" stroke="#156c00" stroke-opacity="0.061" stroke-width="0.7"/>
<circle cx="589.9" cy="75.7" r="3.7" fill="#156c00" fill-opacity="0.175" stroke="#156c00" stroke-opacity="0.061" stroke-width="0.7"/>
<circle cx="576.6" cy="89" r="3.7" fill="#156c00" fill-opacity="0.175" stroke="#156c00" stroke-opacity="0.061" stroke-width="0.7"/>
<circle cx="570.3" cy="99.6" r="3.7" fill="#156c00" fill-opacity="0.175" stroke="#156c00" stroke-opacity="0.061" stroke-width="0.7"/>
<circle cx="579.5" cy="103.3" r="3.7" fill="#156c00" fill-opacity="0.175" stroke="#156c00" stroke-opacity="0.061" stroke-width="0.7"/>
<circle cx="583.2" cy="101.6" r="3.7" fill="#156c00" fill-opacity="0.175" stroke="#156c00" stroke-opacity="0.061" stroke-width="0.7"/>
<circle cx="596.8" cy="86.7" r="3.7" fill="#156c00" fill-opacity="0.175" stroke="#156c00" stroke-opacity="0.061" stroke-width="0.7"/>
<circle cx="603.4" cy="102.5" r="3.7" fill="#156c00" fill-opacity="0.175" stroke="#156c00" stroke-opacity="0.061" stroke-width="0.7"/>
<circle cx="606.3" cy="110.3" r="3.7" fill="#156c00" fill-opacity="0.175" stroke="#156c00" stroke-opacity="0.061" stroke-width="0.7"/>
<circle cx="610.6" cy="80.3" r="3.7" fill="#156c00" fill-opacity="0.175" stroke="#156c00" stroke-opacity="0.061" stroke-width="0.7"/>
<circle cx="616.3" cy="103.3" r="3.7" fill="#156c00" fill-opacity="0.175" stroke="#156c00" stroke-opacity="0.061" stroke-width="0.7"/>
<circle cx="619.2" cy="96.7" r="3.7" fill="#156c00" fill-opacity="0.175" stroke="#156c00" stroke-opacity="0.061" stroke-width="0.7"/>
<circle cx="624.4" cy="82.3" r="3.7" fill="#156c00" fill-opacity="0.175" stroke="#156c00" stroke-opacity="0.061" stroke-width="0.7"/>
<circle cx="627.8" cy="96.2" r="3.7" fill="#156c00" fill-opacity="0.175" stroke="#156c00" stroke-opacity="0.061" stroke-width="0.7"/>
<circle cx="633.6" cy="87.2" r="3.7" fill="#156c00" fill-opacity="0.175" stroke="#156c00" stroke-opacity="0.061" stroke-width="0.7"/>
<circle cx="638.8" cy="78.6" r="3.7" fill="#156c00" fill-opacity="0.175" stroke="#156c00" stroke-opacity="0.061" stroke-width="0.7"/>
<circle cx="643.7" cy="87.2" r="3.7" fill="#156c00" fill-opacity="0.175" stroke="#156c00" stroke-opacity="0.061" stroke-width="0.7"/>
<circle cx="647.4" cy="121.2" r="3.7" fill="#156c00" fill-opacity="0.175" stroke="#156c00" stroke-opacity="0.061" stroke-width="0.7"/>
<circle cx="646.5" cy="96.7" r="3.7" fill="#156c00" fill-opacity="0.175" stroke="#156c00" stroke-opacity="0.061" stroke-width="0.7"/>
<circle cx="649.4" cy="86.2" r="3.7" fill="#156c00" fill-opacity="0.175" stroke="#156c00" stroke-opacity="0.061" stroke-width="0.7"/>
<circle cx="654.6" cy="86.2" r="3.7" fill="#156c00" fill-opacity="0.175" stroke="#156c00" stroke-opacity="0.061" stroke-width="0.7"/>
<circle cx="658.1" cy="84.8" r="3.7" fill="#156c00" fill-opacity="0.175" stroke="#156c00" stroke-opacity="0.061" stroke-width="0.7"/>
<circle cx="650.9" cy="99.2" r="3.7" fill="#156c00" fill-opacity="0.175" stroke="#156c00" stroke-opacity="0.061" stroke-width="0.7"/>
<circle cx="653.7" cy="100.6" r="3.7" fill="#156c00" fill-opacity="0.175" stroke="#156c00" stroke-opacity="0.061" stroke-width="0.7"/>
<circle cx="663.8" cy="99.2" r="3.7" fill="#156c00" fill-opacity="0.175" stroke="#156c00" stroke-opacity="0.061" stroke-width="0.7"/>
<circle cx="660.4" cy="107.2" r="3.7" fill="#156c00" fill-opacity="0.175" stroke="#156c00" stroke-opacity="0.061" stroke-width="0.7"/>
<circle cx="677.7" cy="83.3" r="3.7" fill="#156c00" fill-opacity="0.175" stroke="#156c00" stroke-opacity="0.061" stroke-width="0.7"/>
<rect x="455.7" y="82.8" width="7.8" height="7.8" fill="#156c00" fill-opacity="0.27" stroke="#156c00" stroke-opacity="0.095" stroke-width="0.7"/>
<rect x="454.3" y="87.9" width="7.8" height="7.8" fill="#156c00" fill-opacity="0.27" stroke="#156c00" stroke-opacity="0.095" stroke-width="0.7"/>
<rect x="554.3" y="79.9" width="7.8" height="7.8" fill="#156c00" fill-opacity="0.27" stroke="#156c00" stroke-opacity="0.095" stroke-width="0.7"/>
<rect x="557.8" y="80.5" width="7.8" height="7.8" fill="#156c00" fill-opacity="0.27" stroke="#156c00" stroke-opacity="0.095" stroke-width="0.7"/>
<rect x="583.1" y="81.3" width="7.8" height="7.8" fill="#156c00" fill-opacity="0.27" stroke="#156c00" stroke-opacity="0.095" stroke-width="0.7"/>
<rect x="585.1" y="91.4" width="7.8" height="7.8" fill="#156c00" fill-opacity="0.27" stroke="#156c00" stroke-opacity="0.095" stroke-width="0.7"/>
<rect x="621.6" y="66.1" width="7.8" height="7.8" fill="#156c00" fill-opacity="0.27" stroke="#156c00" stroke-opacity="0.095" stroke-width="0.7"/>
<rect x="692.5" y="56.4" width="7.8" height="7.8" fill="#156c00" fill-opacity="0.27" stroke="#156c00" stroke-opacity="0.095" stroke-width="0.7"/>
<rect x="685.3" y="80.3" width="7.8" height="7.8" fill="#156c00" fill-opacity="0.27" stroke="#156c00" stroke-opacity="0.095" stroke-width="0.7"/>
<rect x="649.8" y="117.7" width="7.8" height="7.8" fill="#156c00" fill-opacity="0.27" stroke="#156c00" stroke-opacity="0.095" stroke-width="0.7"/>
<rect x="659.3" y="125.5" width="7.8" height="7.8" fill="#156c00" fill-opacity="0.27" stroke="#156c00" stroke-opacity="0.095" stroke-width="0.7"/>
<polygon points="468.4,94.3 464.6,101.7 472.2,101.7" fill="#00b4bc" fill-opacity="0.13" stroke="#00b4bc" stroke-opacity="0.045" stroke-width="0.7" stroke-linejoin="miter"/>
<polygon points="479.6,93 475.8,100.4 483.4,100.4" fill="#00b4bc" fill-opacity="0.13" stroke="#00b4bc" stroke-opacity="0.045" stroke-width="0.7" stroke-linejoin="miter"/>
<polygon points="494.2,89.9 490.4,97.3 498,97.3" fill="#00b4bc" fill-opacity="0.13" stroke="#00b4bc" stroke-opacity="0.045" stroke-width="0.7" stroke-linejoin="miter"/>
<polygon points="529.4,93.4 525.6,100.8 533.2,100.8" fill="#00b4bc" fill-opacity="0.13" stroke="#00b4bc" stroke-opacity="0.045" stroke-width="0.7" stroke-linejoin="miter"/>
<polygon points="566,98.8 562.2,106.2 569.8,106.2" fill="#00b4bc" fill-opacity="0.13" stroke="#00b4bc" stroke-opacity="0.045" stroke-width="0.7" stroke-linejoin="miter"/>
<polygon points="593.3,91 589.5,98.4 597.1,98.4" fill="#00b4bc" fill-opacity="0.13" stroke="#00b4bc" stroke-opacity="0.045" stroke-width="0.7" stroke-linejoin="miter"/>
<polygon points="628.6,85.8 624.8,93.2 632.4,93.2" fill="#00b4bc" fill-opacity="0.13" stroke="#00b4bc" stroke-opacity="0.045" stroke-width="0.7" stroke-linejoin="miter"/>
<polygon points="660.5,85.8 656.7,93.2 664.3,93.2" fill="#00b4bc" fill-opacity="0.13" stroke="#00b4bc" stroke-opacity="0.045" stroke-width="0.7" stroke-linejoin="miter"/>
<polygon points="689.4,91.6 685.6,99 693.2,99" fill="#00b4bc" fill-opacity="0.13" stroke="#00b4bc" stroke-opacity="0.045" stroke-width="0.7" stroke-linejoin="miter"/>
<polygon points="435.5,93 431.7,100.4 439.3,100.4" fill="#ff8c00" fill-opacity="0.21" stroke="#ff8c00" stroke-opacity="0.073" stroke-width="0.7" stroke-linejoin="miter"/>
<polygon points="455.1,83.2 451.3,90.6 458.9,90.6" fill="#ff8c00" fill-opacity="0.21" stroke="#ff8c00" stroke-opacity="0.073" stroke-width="0.7" stroke-linejoin="miter"/>
<polygon points="458.2,96.1 454.4,103.5 462,103.5" fill="#ff8c00" fill-opacity="0.21" stroke="#ff8c00" stroke-opacity="0.073" stroke-width="0.7" stroke-linejoin="miter"/>
<polygon points="461.3,87.7 457.5,95.1 465.1,95.1" fill="#ff8c00" fill-opacity="0.21" stroke="#ff8c00" stroke-opacity="0.073" stroke-width="0.7" stroke-linejoin="miter"/>
<polygon points="463.1,92.1 459.3,99.5 466.9,99.5" fill="#ff8c00" fill-opacity="0.21" stroke="#ff8c00" stroke-opacity="0.073" stroke-width="0.7" stroke-linejoin="miter"/>
<polygon points="466.6,90.8 462.8,98.2 470.4,98.2" fill="#ff8c00" fill-opacity="0.21" stroke="#ff8c00" stroke-opacity="0.073" stroke-width="0.7" stroke-linejoin="miter"/>
<polygon points="470.2,93 466.4,100.4 474,100.4" fill="#ff8c00" fill-opacity="0.21" stroke="#ff8c00" stroke-opacity="0.073" stroke-width="0.7" stroke-linejoin="miter"/>
<polygon points="476.4,93 472.6,100.4 480.2,100.4" fill="#ff8c00" fill-opacity="0.21" stroke="#ff8c00" stroke-opacity="0.073" stroke-width="0.7" stroke-linejoin="miter"/>
<polygon points="488.9,88.5 485.1,95.9 492.7,95.9" fill="#ff8c00" fill-opacity="0.21" stroke="#ff8c00" stroke-opacity="0.073" stroke-width="0.7" stroke-linejoin="miter"/>
<polygon points="497.8,93.4 494,100.8 501.6,100.8" fill="#ff8c00" fill-opacity="0.21" stroke="#ff8c00" stroke-opacity="0.073" stroke-width="0.7" stroke-linejoin="miter"/>
<polygon points="502.3,85.9 498.5,93.3 506.1,93.3" fill="#ff8c00" fill-opacity="0.21" stroke="#ff8c00" stroke-opacity="0.073" stroke-width="0.7" stroke-linejoin="miter"/>
<polygon points="506.7,87.7 502.9,95.1 510.5,95.1" fill="#ff8c00" fill-opacity="0.21" stroke="#ff8c00" stroke-opacity="0.073" stroke-width="0.7" stroke-linejoin="miter"/>
<polygon points="510.7,93.4 506.9,100.8 514.5,100.8" fill="#ff8c00" fill-opacity="0.21" stroke="#ff8c00" stroke-opacity="0.073" stroke-width="0.7" stroke-linejoin="miter"/>
<polygon points="515.6,97 511.8,104.4 519.4,104.4" fill="#ff8c00" fill-opacity="0.21" stroke="#ff8c00" stroke-opacity="0.073" stroke-width="0.7" stroke-linejoin="miter"/>
<polygon points="533.4,91.7 529.6,99.1 537.2,99.1" fill="#ff8c00" fill-opacity="0.21" stroke="#ff8c00" stroke-opacity="0.073" stroke-width="0.7" stroke-linejoin="miter"/>
<polygon points="537,93 533.2,100.4 540.8,100.4" fill="#ff8c00" fill-opacity="0.21" stroke="#ff8c00" stroke-opacity="0.073" stroke-width="0.7" stroke-linejoin="miter"/>
<polygon points="540.6,92.6 536.8,100 544.4,100" fill="#ff8c00" fill-opacity="0.21" stroke="#ff8c00" stroke-opacity="0.073" stroke-width="0.7" stroke-linejoin="miter"/>
<polygon points="544.1,92.1 540.3,99.5 547.9,99.5" fill="#ff8c00" fill-opacity="0.21" stroke="#ff8c00" stroke-opacity="0.073" stroke-width="0.7" stroke-linejoin="miter"/>
<polygon points="547.3,86.4 543.5,93.8 551.1,93.8" fill="#ff8c00" fill-opacity="0.21" stroke="#ff8c00" stroke-opacity="0.073" stroke-width="0.7" stroke-linejoin="miter"/>
<polygon points="551,91.3 547.2,98.7 554.8,98.7" fill="#ff8c00" fill-opacity="0.21" stroke="#ff8c00" stroke-opacity="0.073" stroke-width="0.7" stroke-linejoin="miter"/>
<polygon points="556.3,94.9 552.5,102.3 560.1,102.3" fill="#ff8c00" fill-opacity="0.21" stroke="#ff8c00" stroke-opacity="0.073" stroke-width="0.7" stroke-linejoin="miter"/>
<polygon points="563.2,91.4 559.4,98.8 567,98.8" fill="#ff8c00" fill-opacity="0.21" stroke="#ff8c00" stroke-opacity="0.073" stroke-width="0.7" stroke-linejoin="miter"/>
<polygon points="570.1,92.3 566.3,99.7 573.9,99.7" fill="#ff8c00" fill-opacity="0.21" stroke="#ff8c00" stroke-opacity="0.073" stroke-width="0.7" stroke-linejoin="miter"/>
<polygon points="574.9,90.1 571.1,97.5 578.7,97.5" fill="#ff8c00" fill-opacity="0.21" stroke="#ff8c00" stroke-opacity="0.073" stroke-width="0.7" stroke-linejoin="miter"/>
<polygon points="577.9,87.5 574.1,94.9 581.7,94.9" fill="#ff8c00" fill-opacity="0.21" stroke="#ff8c00" stroke-opacity="0.073" stroke-width="0.7" stroke-linejoin="miter"/>
<polygon points="580,97 576.2,104.4 583.8,104.4" fill="#ff8c00" fill-opacity="0.21" stroke="#ff8c00" stroke-opacity="0.073" stroke-width="0.7" stroke-linejoin="miter"/>
<polygon points="582.6,85.8 578.8,93.2 586.4,93.2" fill="#ff8c00" fill-opacity="0.21" stroke="#ff8c00" stroke-opacity="0.073" stroke-width="0.7" stroke-linejoin="miter"/>
<polygon points="584.8,92.7 581,100.1 588.6,100.1" fill="#ff8c00" fill-opacity="0.21" stroke="#ff8c00" stroke-opacity="0.073" stroke-width="0.7" stroke-linejoin="miter"/>
<polygon points="590.4,93.1 586.6,100.5 594.2,100.5" fill="#ff8c00" fill-opacity="0.21" stroke="#ff8c00" stroke-opacity="0.073" stroke-width="0.7" stroke-linejoin="miter"/>
<polygon points="592.1,94.4 588.3,101.8 595.9,101.8" fill="#ff8c00" fill-opacity="0.21" stroke="#ff8c00" stroke-opacity="0.073" stroke-width="0.7" stroke-linejoin="miter"/>
<polygon points="595.6,90.1 591.8,97.5 599.4,97.5" fill="#ff8c00" fill-opacity="0.21" stroke="#ff8c00" stroke-opacity="0.073" stroke-width="0.7" stroke-linejoin="miter"/>
<polygon points="598.6,92.3 594.8,99.7 602.4,99.7" fill="#ff8c00" fill-opacity="0.21" stroke="#ff8c00" stroke-opacity="0.073" stroke-width="0.7" stroke-linejoin="miter"/>
<polygon points="601.6,93.1 597.8,100.5 605.4,100.5" fill="#ff8c00" fill-opacity="0.21" stroke="#ff8c00" stroke-opacity="0.073" stroke-width="0.7" stroke-linejoin="miter"/>
<polygon points="604.2,91.4 600.4,98.8 608,98.8" fill="#ff8c00" fill-opacity="0.21" stroke="#ff8c00" stroke-opacity="0.073" stroke-width="0.7" stroke-linejoin="miter"/>
<polygon points="606.8,84.9 603,92.3 610.6,92.3" fill="#ff8c00" fill-opacity="0.21" stroke="#ff8c00" stroke-opacity="0.073" stroke-width="0.7" stroke-linejoin="miter"/>
<polygon points="610.3,84.1 606.5,91.5 614.1,91.5" fill="#ff8c00" fill-opacity="0.21" stroke="#ff8c00" stroke-opacity="0.073" stroke-width="0.7" stroke-linejoin="miter"/>
<polygon points="612,85.8 608.2,93.2 615.8,93.2" fill="#ff8c00" fill-opacity="0.21" stroke="#ff8c00" stroke-opacity="0.073" stroke-width="0.7" stroke-linejoin="miter"/>
<polygon points="614.6,91 610.8,98.4 618.4,98.4" fill="#ff8c00" fill-opacity="0.21" stroke="#ff8c00" stroke-opacity="0.073" stroke-width="0.7" stroke-linejoin="miter"/>
<polygon points="615.8,65.7 612,73.1 619.6,73.1" fill="#ff8c00" fill-opacity="0.21" stroke="#ff8c00" stroke-opacity="0.073" stroke-width="0.7" stroke-linejoin="miter"/>
<polygon points="617.9,87.3 614.1,94.7 621.7,94.7" fill="#ff8c00" fill-opacity="0.21" stroke="#ff8c00" stroke-opacity="0.073" stroke-width="0.7" stroke-linejoin="miter"/>
<polygon points="621.3,92.6 617.5,100 625.1,100" fill="#ff8c00" fill-opacity="0.21" stroke="#ff8c00" stroke-opacity="0.073" stroke-width="0.7" stroke-linejoin="miter"/>
<polygon points="626.6,97.9 622.8,105.3 630.4,105.3" fill="#ff8c00" fill-opacity="0.21" stroke="#ff8c00" stroke-opacity="0.073" stroke-width="0.7" stroke-linejoin="miter"/>
<polygon points="634.4,92.1 630.6,99.5 638.2,99.5" fill="#ff8c00" fill-opacity="0.21" stroke="#ff8c00" stroke-opacity="0.073" stroke-width="0.7" stroke-linejoin="miter"/>
<polygon points="637.8,85.3 634,92.7 641.6,92.7" fill="#ff8c00" fill-opacity="0.21" stroke="#ff8c00" stroke-opacity="0.073" stroke-width="0.7" stroke-linejoin="miter"/>
<polygon points="639.7,95.5 635.9,102.9 643.5,102.9" fill="#ff8c00" fill-opacity="0.21" stroke="#ff8c00" stroke-opacity="0.073" stroke-width="0.7" stroke-linejoin="miter"/>
<polygon points="642.6,89.2 638.8,96.6 646.4,96.6" fill="#ff8c00" fill-opacity="0.21" stroke="#ff8c00" stroke-opacity="0.073" stroke-width="0.7" stroke-linejoin="miter"/>
<polygon points="645,85.8 641.2,93.2 648.8,93.2" fill="#ff8c00" fill-opacity="0.21" stroke="#ff8c00" stroke-opacity="0.073" stroke-width="0.7" stroke-linejoin="miter"/>
<polygon points="648.4,87.8 644.6,95.2 652.2,95.2" fill="#ff8c00" fill-opacity="0.21" stroke="#ff8c00" stroke-opacity="0.073" stroke-width="0.7" stroke-linejoin="miter"/>
<polygon points="657.6,85.8 653.8,93.2 661.4,93.2" fill="#ff8c00" fill-opacity="0.21" stroke="#ff8c00" stroke-opacity="0.073" stroke-width="0.7" stroke-linejoin="miter"/>
<polygon points="662.5,86.3 658.7,93.7 666.3,93.7" fill="#ff8c00" fill-opacity="0.21" stroke="#ff8c00" stroke-opacity="0.073" stroke-width="0.7" stroke-linejoin="miter"/>
<polygon points="667.8,93.1 664,100.5 671.6,100.5" fill="#ff8c00" fill-opacity="0.21" stroke="#ff8c00" stroke-opacity="0.073" stroke-width="0.7" stroke-linejoin="miter"/>
<polygon points="671.2,87.3 667.4,94.7 675,94.7" fill="#ff8c00" fill-opacity="0.21" stroke="#ff8c00" stroke-opacity="0.073" stroke-width="0.7" stroke-linejoin="miter"/>
<polygon points="674.1,86.8 670.3,94.2 677.9,94.2" fill="#ff8c00" fill-opacity="0.21" stroke="#ff8c00" stroke-opacity="0.073" stroke-width="0.7" stroke-linejoin="miter"/>
<polygon points="676,93.1 672.2,100.5 679.8,100.5" fill="#ff8c00" fill-opacity="0.21" stroke="#ff8c00" stroke-opacity="0.073" stroke-width="0.7" stroke-linejoin="miter"/>
<polygon points="679,85.8 675.2,93.2 682.8,93.2" fill="#ff8c00" fill-opacity="0.21" stroke="#ff8c00" stroke-opacity="0.073" stroke-width="0.7" stroke-linejoin="miter"/>
<polygon points="684.5,91.6 680.7,99 688.3,99" fill="#ff8c00" fill-opacity="0.21" stroke="#ff8c00" stroke-opacity="0.073" stroke-width="0.7" stroke-linejoin="miter"/>
<polygon points="692.8,92.1 689,99.5 696.6,99.5" fill="#ff8c00" fill-opacity="0.21" stroke="#ff8c00" stroke-opacity="0.073" stroke-width="0.7" stroke-linejoin="miter"/>
<polygon points="697.6,94.6 693.8,102 701.4,102" fill="#ff8c00" fill-opacity="0.21" stroke="#ff8c00" stroke-opacity="0.073" stroke-width="0.7" stroke-linejoin="miter"/>
<polygon points="701,94.6 697.2,102 704.8,102" fill="#ff8c00" fill-opacity="0.21" stroke="#ff8c00" stroke-opacity="0.073" stroke-width="0.7" stroke-linejoin="miter"/>
<polygon points="709.2,86.8 705.4,94.2 713,94.2" fill="#ff8c00" fill-opacity="0.21" stroke="#ff8c00" stroke-opacity="0.073" stroke-width="0.7" stroke-linejoin="miter"/>
</g>
<polygon points="718.2,79.35 714.3,86.65 722.1,86.65" fill="#00f4f4" fill-opacity="1" stroke="#00c8c8" stroke-opacity="1.000" stroke-width="0.6" stroke-linejoin="miter"/>
<line x1="414.5" y1="277.3" x2="735.5" y2="277.3" stroke="#1a1a1a" stroke-width="1.3" stroke-dasharray="3.4 1.8"/>
<clipPath id="cbb"><rect x="414.8" y="167.7" width="320.4" height="156.1"/></clipPath><g clip-path="url(#cbb)">
<line x1="423.4" y1="252.5" x2="423.4" y2="273.4" stroke="#f05a28" stroke-opacity="0.18" stroke-width="1"/>
<line x1="426.8" y1="275.5" x2="426.8" y2="285.5" stroke="#f05a28" stroke-opacity="0.18" stroke-width="1"/>
<line x1="435.4" y1="268.4" x2="435.4" y2="278.4" stroke="#f05a28" stroke-opacity="0.18" stroke-width="1"/>
<line x1="439.9" y1="270.3" x2="439.9" y2="280.3" stroke="#f05a28" stroke-opacity="0.18" stroke-width="1"/>
<line x1="443.3" y1="276.3" x2="443.3" y2="286.3" stroke="#f05a28" stroke-opacity="0.18" stroke-width="1"/>
<line x1="446.9" y1="265" x2="446.9" y2="275" stroke="#f05a28" stroke-opacity="0.18" stroke-width="1"/>
<line x1="450.3" y1="271.8" x2="450.3" y2="281.8" stroke="#f05a28" stroke-opacity="0.18" stroke-width="1"/>
<line x1="446.3" y1="264.6" x2="446.3" y2="274.6" stroke="#f05a28" stroke-opacity="0.18" stroke-width="1"/>
<line x1="442.9" y1="276.4" x2="442.9" y2="286.4" stroke="#f05a28" stroke-opacity="0.18" stroke-width="1"/>
<line x1="468.8" y1="268.9" x2="468.8" y2="278.9" stroke="#f05a28" stroke-opacity="0.18" stroke-width="1"/>
<line x1="474" y1="266.9" x2="474" y2="276.9" stroke="#f05a28" stroke-opacity="0.18" stroke-width="1"/>
<line x1="484.6" y1="277.4" x2="484.6" y2="299.6" stroke="#f05a28" stroke-opacity="0.18" stroke-width="1"/>
<line x1="493.2" y1="273.5" x2="493.2" y2="283.5" stroke="#f05a28" stroke-opacity="0.18" stroke-width="1"/>
<line x1="499" y1="274.6" x2="499" y2="284.6" stroke="#f05a28" stroke-opacity="0.18" stroke-width="1"/>
<line x1="501.9" y1="266.9" x2="501.9" y2="276.9" stroke="#f05a28" stroke-opacity="0.18" stroke-width="1"/>
<line x1="507.6" y1="275.5" x2="507.6" y2="285.5" stroke="#f05a28" stroke-opacity="0.18" stroke-width="1"/>
<line x1="511.4" y1="266.9" x2="511.4" y2="276.9" stroke="#f05a28" stroke-opacity="0.18" stroke-width="1"/>
<line x1="512.5" y1="267.3" x2="512.5" y2="277.3" stroke="#f05a28" stroke-opacity="0.18" stroke-width="1"/>
<line x1="536.7" y1="268" x2="536.7" y2="278" stroke="#f05a28" stroke-opacity="0.18" stroke-width="1"/>
<line x1="539.9" y1="276.1" x2="539.9" y2="286.1" stroke="#f05a28" stroke-opacity="0.18" stroke-width="1"/>
<line x1="540.8" y1="279.3" x2="540.8" y2="289.3" stroke="#f05a28" stroke-opacity="0.18" stroke-width="1"/>
<line x1="543" y1="283" x2="543" y2="293" stroke="#f05a28" stroke-opacity="0.18" stroke-width="1"/>
<line x1="557.2" y1="266.7" x2="557.2" y2="276.7" stroke="#f05a28" stroke-opacity="0.18" stroke-width="1"/>
<line x1="563.5" y1="262.6" x2="563.5" y2="272.6" stroke="#f05a28" stroke-opacity="0.18" stroke-width="1"/>
<line x1="569.1" y1="264.8" x2="569.1" y2="274.8" stroke="#f05a28" stroke-opacity="0.18" stroke-width="1"/>
<line x1="572.9" y1="255.4" x2="572.9" y2="265.4" stroke="#f05a28" stroke-opacity="0.18" stroke-width="1"/>
<line x1="567.2" y1="269.8" x2="567.2" y2="279.8" stroke="#f05a28" stroke-opacity="0.18" stroke-width="1"/>
<line x1="585.5" y1="271.1" x2="585.5" y2="281.1" stroke="#f05a28" stroke-opacity="0.18" stroke-width="1"/>
<line x1="596.5" y1="256.3" x2="596.5" y2="266.3" stroke="#f05a28" stroke-opacity="0.18" stroke-width="1"/>
<line x1="603.7" y1="261.7" x2="603.7" y2="271.7" stroke="#f05a28" stroke-opacity="0.18" stroke-width="1"/>
<line x1="605.9" y1="279.9" x2="605.9" y2="289.9" stroke="#f05a28" stroke-opacity="0.18" stroke-width="1"/>
<line x1="603.1" y1="262" x2="603.1" y2="272" stroke="#f05a28" stroke-opacity="0.18" stroke-width="1"/>
<line x1="606.3" y1="279.4" x2="606.3" y2="289.4" stroke="#f05a28" stroke-opacity="0.18" stroke-width="1"/>
<line x1="627.2" y1="266.2" x2="627.2" y2="276.2" stroke="#f05a28" stroke-opacity="0.18" stroke-width="1"/>
<line x1="631" y1="267.2" x2="631" y2="277.2" stroke="#f05a28" stroke-opacity="0.18" stroke-width="1"/>
<line x1="635.2" y1="267.6" x2="635.2" y2="277.6" stroke="#f05a28" stroke-opacity="0.18" stroke-width="1"/>
<line x1="638.7" y1="262" x2="638.7" y2="272" stroke="#f05a28" stroke-opacity="0.18" stroke-width="1"/>
<line x1="642.9" y1="264.7" x2="642.9" y2="274.7" stroke="#f05a28" stroke-opacity="0.18" stroke-width="1"/>
<line x1="645" y1="256.8" x2="645" y2="266.8" stroke="#f05a28" stroke-opacity="0.18" stroke-width="1"/>
<line x1="646.1" y1="267.2" x2="646.1" y2="277.2" stroke="#f05a28" stroke-opacity="0.18" stroke-width="1"/>
<line x1="648.2" y1="264.7" x2="648.2" y2="274.7" stroke="#f05a28" stroke-opacity="0.18" stroke-width="1"/>
<line x1="650.3" y1="261" x2="650.3" y2="271" stroke="#f05a28" stroke-opacity="0.18" stroke-width="1"/>
<line x1="654.9" y1="258.8" x2="654.9" y2="268.8" stroke="#f05a28" stroke-opacity="0.18" stroke-width="1"/>
<line x1="657.6" y1="256.8" x2="657.6" y2="266.8" stroke="#f05a28" stroke-opacity="0.18" stroke-width="1"/>
<line x1="659.7" y1="250.5" x2="659.7" y2="260.5" stroke="#f05a28" stroke-opacity="0.18" stroke-width="1"/>
<line x1="661.8" y1="261" x2="661.8" y2="271" stroke="#f05a28" stroke-opacity="0.18" stroke-width="1"/>
<line x1="664.9" y1="262" x2="664.9" y2="272" stroke="#f05a28" stroke-opacity="0.18" stroke-width="1"/>
<line x1="677.7" y1="280.7" x2="677.7" y2="290.7" stroke="#f05a28" stroke-opacity="0.18" stroke-width="1"/>
<line x1="459.5" y1="272.4" x2="459.5" y2="282.4" stroke="#f05a28" stroke-opacity="0.18" stroke-width="1"/>
<line x1="458.7" y1="273.5" x2="458.7" y2="283.5" stroke="#f05a28" stroke-opacity="0.18" stroke-width="1"/>
<line x1="460.7" y1="272.6" x2="460.7" y2="282.6" stroke="#f05a28" stroke-opacity="0.18" stroke-width="1"/>
<line x1="532" y1="245" x2="532" y2="263" stroke="#f05a28" stroke-opacity="0.18" stroke-width="1"/>
<line x1="527.9" y1="262.6" x2="527.9" y2="272.6" stroke="#f05a28" stroke-opacity="0.18" stroke-width="1"/>
<line x1="577" y1="270.5" x2="577" y2="280.5" stroke="#f05a28" stroke-opacity="0.18" stroke-width="1"/>
<line x1="609" y1="242.2" x2="609" y2="252.2" stroke="#f05a28" stroke-opacity="0.18" stroke-width="1"/>
<line x1="612.3" y1="235.8" x2="612.3" y2="245.8" stroke="#f05a28" stroke-opacity="0.18" stroke-width="1"/>
<line x1="609.9" y1="232" x2="609.9" y2="262" stroke="#f05a28" stroke-opacity="0.18" stroke-width="1"/>
<line x1="659.4" y1="232.9" x2="659.4" y2="242.9" stroke="#f05a28" stroke-opacity="0.18" stroke-width="1"/>
<line x1="625.5" y1="252.7" x2="625.5" y2="262.7" stroke="#f05a28" stroke-opacity="0.18" stroke-width="1"/>
<line x1="609.4" y1="272" x2="609.4" y2="313" stroke="#f05a28" stroke-opacity="0.18" stroke-width="1"/>
<line x1="616.8" y1="262" x2="616.8" y2="272" stroke="#f05a28" stroke-opacity="0.18" stroke-width="1"/>
<line x1="616.8" y1="264.7" x2="616.8" y2="274.7" stroke="#f05a28" stroke-opacity="0.18" stroke-width="1"/>
<line x1="647.1" y1="268.3" x2="647.1" y2="278.3" stroke="#f05a28" stroke-opacity="0.18" stroke-width="1"/>
<line x1="649.8" y1="265.1" x2="649.8" y2="275.1" stroke="#f05a28" stroke-opacity="0.18" stroke-width="1"/>
<line x1="664.7" y1="260.7" x2="664.7" y2="270.7" stroke="#f05a28" stroke-opacity="0.18" stroke-width="1"/>
<line x1="680" y1="260.2" x2="680" y2="270.2" stroke="#f05a28" stroke-opacity="0.18" stroke-width="1"/>
<line x1="677.7" y1="264.9" x2="677.7" y2="274.9" stroke="#f05a28" stroke-opacity="0.18" stroke-width="1"/>
<line x1="675.3" y1="271.3" x2="675.3" y2="281.3" stroke="#f05a28" stroke-opacity="0.18" stroke-width="1"/>
<line x1="674.6" y1="274.8" x2="674.6" y2="284.8" stroke="#f05a28" stroke-opacity="0.18" stroke-width="1"/>
<line x1="683.6" y1="248.9" x2="683.6" y2="258.9" stroke="#f05a28" stroke-opacity="0.18" stroke-width="1"/>
<line x1="685.5" y1="246.5" x2="685.5" y2="256.5" stroke="#f05a28" stroke-opacity="0.18" stroke-width="1"/>
<line x1="696.6" y1="252.4" x2="696.6" y2="262.4" stroke="#f05a28" stroke-opacity="0.18" stroke-width="1"/>
<line x1="694.2" y1="246.5" x2="694.2" y2="256.5" stroke="#f05a28" stroke-opacity="0.18" stroke-width="1"/>
<line x1="710.7" y1="276" x2="710.7" y2="286" stroke="#f05a28" stroke-opacity="0.18" stroke-width="1"/>
<line x1="713.1" y1="280.7" x2="713.1" y2="290.7" stroke="#f05a28" stroke-opacity="0.18" stroke-width="1"/>
<line x1="707.6" y1="242.8" x2="707.6" y2="252.8" stroke="#f05a28" stroke-opacity="0.18" stroke-width="1"/>
<line x1="458.2" y1="290.4" x2="458.2" y2="314" stroke="#a83a1c" stroke-opacity="0.18" stroke-width="1"/>
<line x1="476.8" y1="266" x2="476.8" y2="289" stroke="#a83a1c" stroke-opacity="0.18" stroke-width="1"/>
<line x1="547.7" y1="238" x2="547.7" y2="274" stroke="#a83a1c" stroke-opacity="0.18" stroke-width="1"/>
<line x1="572.3" y1="198.6" x2="572.3" y2="250" stroke="#a83a1c" stroke-opacity="0.18" stroke-width="1"/>
<line x1="574.5" y1="264.2" x2="574.5" y2="274.2" stroke="#a83a1c" stroke-opacity="0.18" stroke-width="1"/>
<line x1="637.7" y1="253" x2="637.7" y2="263" stroke="#a83a1c" stroke-opacity="0.18" stroke-width="1"/>
<line x1="678.4" y1="221" x2="678.4" y2="242" stroke="#a83a1c" stroke-opacity="0.18" stroke-width="1"/>
<line x1="687.1" y1="220" x2="687.1" y2="241" stroke="#a83a1c" stroke-opacity="0.18" stroke-width="1"/>
<line x1="470" y1="246" x2="470" y2="271.9" stroke="#b8860b" stroke-opacity="0.18" stroke-width="1"/>
<line x1="541.4" y1="245.6" x2="541.4" y2="283" stroke="#b8860b" stroke-opacity="0.18" stroke-width="1"/>
<line x1="578.6" y1="254.1" x2="578.6" y2="264.1" stroke="#b8860b" stroke-opacity="0.18" stroke-width="1"/>
<line x1="669.9" y1="235.8" x2="669.9" y2="245.8" stroke="#b8860b" stroke-opacity="0.18" stroke-width="1"/>
<line x1="693" y1="246.4" x2="693" y2="256.4" stroke="#b8860b" stroke-opacity="0.18" stroke-width="1"/>
<circle cx="423.4" cy="263" r="3.7" fill="#f05a28" fill-opacity="0.22" stroke="#f05a28" stroke-opacity="0.077" stroke-width="0.7"/>
<circle cx="426.8" cy="280.5" r="3.7" fill="#f05a28" fill-opacity="0.22" stroke="#f05a28" stroke-opacity="0.077" stroke-width="0.7"/>
<circle cx="435.4" cy="273.4" r="3.7" fill="#f05a28" fill-opacity="0.22" stroke="#f05a28" stroke-opacity="0.077" stroke-width="0.7"/>
<circle cx="439.9" cy="275.3" r="3.7" fill="#f05a28" fill-opacity="0.22" stroke="#f05a28" stroke-opacity="0.077" stroke-width="0.7"/>
<circle cx="443.3" cy="281.3" r="3.7" fill="#f05a28" fill-opacity="0.22" stroke="#f05a28" stroke-opacity="0.077" stroke-width="0.7"/>
<circle cx="446.9" cy="270" r="3.7" fill="#f05a28" fill-opacity="0.22" stroke="#f05a28" stroke-opacity="0.077" stroke-width="0.7"/>
<circle cx="450.3" cy="276.8" r="3.7" fill="#f05a28" fill-opacity="0.22" stroke="#f05a28" stroke-opacity="0.077" stroke-width="0.7"/>
<circle cx="446.3" cy="269.6" r="3.7" fill="#f05a28" fill-opacity="0.22" stroke="#f05a28" stroke-opacity="0.077" stroke-width="0.7"/>
<circle cx="442.9" cy="281.4" r="3.7" fill="#f05a28" fill-opacity="0.22" stroke="#f05a28" stroke-opacity="0.077" stroke-width="0.7"/>
<circle cx="468.8" cy="273.9" r="3.7" fill="#f05a28" fill-opacity="0.22" stroke="#f05a28" stroke-opacity="0.077" stroke-width="0.7"/>
<circle cx="474" cy="271.9" r="3.7" fill="#f05a28" fill-opacity="0.22" stroke="#f05a28" stroke-opacity="0.077" stroke-width="0.7"/>
<circle cx="484.6" cy="287.1" r="3.7" fill="#f05a28" fill-opacity="0.22" stroke="#f05a28" stroke-opacity="0.077" stroke-width="0.7"/>
<circle cx="493.2" cy="278.5" r="3.7" fill="#f05a28" fill-opacity="0.22" stroke="#f05a28" stroke-opacity="0.077" stroke-width="0.7"/>
<circle cx="499" cy="279.6" r="3.7" fill="#f05a28" fill-opacity="0.22" stroke="#f05a28" stroke-opacity="0.077" stroke-width="0.7"/>
<circle cx="501.9" cy="271.9" r="3.7" fill="#f05a28" fill-opacity="0.22" stroke="#f05a28" stroke-opacity="0.077" stroke-width="0.7"/>
<circle cx="507.6" cy="280.5" r="3.7" fill="#f05a28" fill-opacity="0.22" stroke="#f05a28" stroke-opacity="0.077" stroke-width="0.7"/>
<circle cx="511.4" cy="271.9" r="3.7" fill="#f05a28" fill-opacity="0.22" stroke="#f05a28" stroke-opacity="0.077" stroke-width="0.7"/>
<circle cx="512.5" cy="272.3" r="3.7" fill="#f05a28" fill-opacity="0.22" stroke="#f05a28" stroke-opacity="0.077" stroke-width="0.7"/>
<circle cx="536.7" cy="273" r="3.7" fill="#f05a28" fill-opacity="0.22" stroke="#f05a28" stroke-opacity="0.077" stroke-width="0.7"/>
<circle cx="539.9" cy="281.1" r="3.7" fill="#f05a28" fill-opacity="0.22" stroke="#f05a28" stroke-opacity="0.077" stroke-width="0.7"/>
<circle cx="540.8" cy="284.3" r="3.7" fill="#f05a28" fill-opacity="0.22" stroke="#f05a28" stroke-opacity="0.077" stroke-width="0.7"/>
<circle cx="543" cy="288" r="3.7" fill="#f05a28" fill-opacity="0.22" stroke="#f05a28" stroke-opacity="0.077" stroke-width="0.7"/>
<circle cx="557.2" cy="271.7" r="3.7" fill="#f05a28" fill-opacity="0.22" stroke="#f05a28" stroke-opacity="0.077" stroke-width="0.7"/>
<circle cx="563.5" cy="267.6" r="3.7" fill="#f05a28" fill-opacity="0.22" stroke="#f05a28" stroke-opacity="0.077" stroke-width="0.7"/>
<circle cx="569.1" cy="269.8" r="3.7" fill="#f05a28" fill-opacity="0.22" stroke="#f05a28" stroke-opacity="0.077" stroke-width="0.7"/>
<circle cx="572.9" cy="260.4" r="3.7" fill="#f05a28" fill-opacity="0.22" stroke="#f05a28" stroke-opacity="0.077" stroke-width="0.7"/>
<circle cx="567.2" cy="274.8" r="3.7" fill="#f05a28" fill-opacity="0.22" stroke="#f05a28" stroke-opacity="0.077" stroke-width="0.7"/>
<circle cx="585.5" cy="276.1" r="3.7" fill="#f05a28" fill-opacity="0.22" stroke="#f05a28" stroke-opacity="0.077" stroke-width="0.7"/>
<circle cx="596.5" cy="261.3" r="3.7" fill="#f05a28" fill-opacity="0.22" stroke="#f05a28" stroke-opacity="0.077" stroke-width="0.7"/>
<circle cx="603.7" cy="266.7" r="3.7" fill="#f05a28" fill-opacity="0.22" stroke="#f05a28" stroke-opacity="0.077" stroke-width="0.7"/>
<circle cx="605.9" cy="284.9" r="3.7" fill="#f05a28" fill-opacity="0.22" stroke="#f05a28" stroke-opacity="0.077" stroke-width="0.7"/>
<circle cx="603.1" cy="267" r="3.7" fill="#f05a28" fill-opacity="0.22" stroke="#f05a28" stroke-opacity="0.077" stroke-width="0.7"/>
<circle cx="606.3" cy="284.4" r="3.7" fill="#f05a28" fill-opacity="0.22" stroke="#f05a28" stroke-opacity="0.077" stroke-width="0.7"/>
<circle cx="627.2" cy="271.2" r="3.7" fill="#f05a28" fill-opacity="0.22" stroke="#f05a28" stroke-opacity="0.077" stroke-width="0.7"/>
<circle cx="631" cy="272.2" r="3.7" fill="#f05a28" fill-opacity="0.22" stroke="#f05a28" stroke-opacity="0.077" stroke-width="0.7"/>
<circle cx="635.2" cy="272.6" r="3.7" fill="#f05a28" fill-opacity="0.22" stroke="#f05a28" stroke-opacity="0.077" stroke-width="0.7"/>
<circle cx="638.7" cy="267" r="3.7" fill="#f05a28" fill-opacity="0.22" stroke="#f05a28" stroke-opacity="0.077" stroke-width="0.7"/>
<circle cx="642.9" cy="269.7" r="3.7" fill="#f05a28" fill-opacity="0.22" stroke="#f05a28" stroke-opacity="0.077" stroke-width="0.7"/>
<circle cx="645" cy="261.8" r="3.7" fill="#f05a28" fill-opacity="0.22" stroke="#f05a28" stroke-opacity="0.077" stroke-width="0.7"/>
<circle cx="646.1" cy="272.2" r="3.7" fill="#f05a28" fill-opacity="0.22" stroke="#f05a28" stroke-opacity="0.077" stroke-width="0.7"/>
<circle cx="648.2" cy="269.7" r="3.7" fill="#f05a28" fill-opacity="0.22" stroke="#f05a28" stroke-opacity="0.077" stroke-width="0.7"/>
<circle cx="650.3" cy="266" r="3.7" fill="#f05a28" fill-opacity="0.22" stroke="#f05a28" stroke-opacity="0.077" stroke-width="0.7"/>
<circle cx="654.9" cy="263.8" r="3.7" fill="#f05a28" fill-opacity="0.22" stroke="#f05a28" stroke-opacity="0.077" stroke-width="0.7"/>
<circle cx="657.6" cy="261.8" r="3.7" fill="#f05a28" fill-opacity="0.22" stroke="#f05a28" stroke-opacity="0.077" stroke-width="0.7"/>
<circle cx="659.7" cy="255.5" r="3.7" fill="#f05a28" fill-opacity="0.22" stroke="#f05a28" stroke-opacity="0.077" stroke-width="0.7"/>
<circle cx="661.8" cy="266" r="3.7" fill="#f05a28" fill-opacity="0.22" stroke="#f05a28" stroke-opacity="0.077" stroke-width="0.7"/>
<circle cx="664.9" cy="267" r="3.7" fill="#f05a28" fill-opacity="0.22" stroke="#f05a28" stroke-opacity="0.077" stroke-width="0.7"/>
<circle cx="677.7" cy="285.7" r="3.7" fill="#f05a28" fill-opacity="0.22" stroke="#f05a28" stroke-opacity="0.077" stroke-width="0.7"/>
<rect x="455.7" y="273.6" width="7.6" height="7.6" fill="#f05a28" fill-opacity="0.34" stroke="#f05a28" stroke-opacity="0.119" stroke-width="0.7"/>
<rect x="454.9" y="274.7" width="7.6" height="7.6" fill="#f05a28" fill-opacity="0.34" stroke="#f05a28" stroke-opacity="0.119" stroke-width="0.7"/>
<rect x="456.9" y="273.8" width="7.6" height="7.6" fill="#f05a28" fill-opacity="0.34" stroke="#f05a28" stroke-opacity="0.119" stroke-width="0.7"/>
<rect x="528.2" y="250.3" width="7.6" height="7.6" fill="#f05a28" fill-opacity="0.34" stroke="#f05a28" stroke-opacity="0.119" stroke-width="0.7"/>
<rect x="524.1" y="263.8" width="7.6" height="7.6" fill="#f05a28" fill-opacity="0.34" stroke="#f05a28" stroke-opacity="0.119" stroke-width="0.7"/>
<rect x="573.2" y="271.7" width="7.6" height="7.6" fill="#f05a28" fill-opacity="0.34" stroke="#f05a28" stroke-opacity="0.119" stroke-width="0.7"/>
<rect x="605.2" y="243.4" width="7.6" height="7.6" fill="#f05a28" fill-opacity="0.34" stroke="#f05a28" stroke-opacity="0.119" stroke-width="0.7"/>
<rect x="608.5" y="237" width="7.6" height="7.6" fill="#f05a28" fill-opacity="0.34" stroke="#f05a28" stroke-opacity="0.119" stroke-width="0.7"/>
<rect x="606.1" y="244" width="7.6" height="7.6" fill="#f05a28" fill-opacity="0.34" stroke="#f05a28" stroke-opacity="0.119" stroke-width="0.7"/>
<rect x="655.6" y="234.1" width="7.6" height="7.6" fill="#f05a28" fill-opacity="0.34" stroke="#f05a28" stroke-opacity="0.119" stroke-width="0.7"/>
<rect x="621.7" y="253.9" width="7.6" height="7.6" fill="#f05a28" fill-opacity="0.34" stroke="#f05a28" stroke-opacity="0.119" stroke-width="0.7"/>
<rect x="605.6" y="275.8" width="7.6" height="7.6" fill="#f05a28" fill-opacity="0.34" stroke="#f05a28" stroke-opacity="0.119" stroke-width="0.7"/>
<rect x="613" y="263.2" width="7.6" height="7.6" fill="#f05a28" fill-opacity="0.34" stroke="#f05a28" stroke-opacity="0.119" stroke-width="0.7"/>
<rect x="613" y="265.9" width="7.6" height="7.6" fill="#f05a28" fill-opacity="0.34" stroke="#f05a28" stroke-opacity="0.119" stroke-width="0.7"/>
<rect x="643.3" y="269.5" width="7.6" height="7.6" fill="#f05a28" fill-opacity="0.34" stroke="#f05a28" stroke-opacity="0.119" stroke-width="0.7"/>
<rect x="646" y="266.3" width="7.6" height="7.6" fill="#f05a28" fill-opacity="0.34" stroke="#f05a28" stroke-opacity="0.119" stroke-width="0.7"/>
<rect x="660.9" y="261.9" width="7.6" height="7.6" fill="#f05a28" fill-opacity="0.34" stroke="#f05a28" stroke-opacity="0.119" stroke-width="0.7"/>
<rect x="676.2" y="261.4" width="7.6" height="7.6" fill="#f05a28" fill-opacity="0.34" stroke="#f05a28" stroke-opacity="0.119" stroke-width="0.7"/>
<rect x="673.9" y="266.1" width="7.6" height="7.6" fill="#f05a28" fill-opacity="0.34" stroke="#f05a28" stroke-opacity="0.119" stroke-width="0.7"/>
<rect x="671.5" y="272.5" width="7.6" height="7.6" fill="#f05a28" fill-opacity="0.34" stroke="#f05a28" stroke-opacity="0.119" stroke-width="0.7"/>
<rect x="670.8" y="276" width="7.6" height="7.6" fill="#f05a28" fill-opacity="0.34" stroke="#f05a28" stroke-opacity="0.119" stroke-width="0.7"/>
<rect x="679.8" y="250.1" width="7.6" height="7.6" fill="#f05a28" fill-opacity="0.34" stroke="#f05a28" stroke-opacity="0.119" stroke-width="0.7"/>
<rect x="681.7" y="247.7" width="7.6" height="7.6" fill="#f05a28" fill-opacity="0.34" stroke="#f05a28" stroke-opacity="0.119" stroke-width="0.7"/>
<rect x="692.8" y="253.6" width="7.6" height="7.6" fill="#f05a28" fill-opacity="0.34" stroke="#f05a28" stroke-opacity="0.119" stroke-width="0.7"/>
<rect x="690.4" y="247.7" width="7.6" height="7.6" fill="#f05a28" fill-opacity="0.34" stroke="#f05a28" stroke-opacity="0.119" stroke-width="0.7"/>
<rect x="706.9" y="277.2" width="7.6" height="7.6" fill="#f05a28" fill-opacity="0.34" stroke="#f05a28" stroke-opacity="0.119" stroke-width="0.7"/>
<rect x="709.3" y="281.9" width="7.6" height="7.6" fill="#f05a28" fill-opacity="0.34" stroke="#f05a28" stroke-opacity="0.119" stroke-width="0.7"/>
<rect x="703.8" y="244" width="7.6" height="7.6" fill="#f05a28" fill-opacity="0.34" stroke="#f05a28" stroke-opacity="0.119" stroke-width="0.7"/>
<rect x="454.4" y="298.4" width="7.6" height="7.6" fill="#a83a1c" fill-opacity="0.38" stroke="#a83a1c" stroke-opacity="0.133" stroke-width="0.7"/>
<rect x="473" y="273.8" width="7.6" height="7.6" fill="#a83a1c" fill-opacity="0.38" stroke="#a83a1c" stroke-opacity="0.133" stroke-width="0.7"/>
<rect x="543.9" y="252.2" width="7.6" height="7.6" fill="#a83a1c" fill-opacity="0.38" stroke="#a83a1c" stroke-opacity="0.133" stroke-width="0.7"/>
<rect x="568.5" y="219.8" width="7.6" height="7.6" fill="#a83a1c" fill-opacity="0.38" stroke="#a83a1c" stroke-opacity="0.133" stroke-width="0.7"/>
<rect x="570.7" y="265.4" width="7.6" height="7.6" fill="#a83a1c" fill-opacity="0.38" stroke="#a83a1c" stroke-opacity="0.133" stroke-width="0.7"/>
<rect x="633.9" y="254.2" width="7.6" height="7.6" fill="#a83a1c" fill-opacity="0.38" stroke="#a83a1c" stroke-opacity="0.133" stroke-width="0.7"/>
<rect x="674.6" y="230.4" width="7.6" height="7.6" fill="#a83a1c" fill-opacity="0.38" stroke="#a83a1c" stroke-opacity="0.133" stroke-width="0.7"/>
<rect x="683.3" y="229.9" width="7.6" height="7.6" fill="#a83a1c" fill-opacity="0.38" stroke="#a83a1c" stroke-opacity="0.133" stroke-width="0.7"/>
<rect x="466.2" y="255.2" width="7.6" height="7.6" fill="#b8860b" fill-opacity="0.3" stroke="#b8860b" stroke-opacity="0.105" stroke-width="0.7"/>
<rect x="537.6" y="262.2" width="7.6" height="7.6" fill="#b8860b" fill-opacity="0.3" stroke="#b8860b" stroke-opacity="0.105" stroke-width="0.7"/>
<rect x="574.8" y="255.3" width="7.6" height="7.6" fill="#b8860b" fill-opacity="0.3" stroke="#b8860b" stroke-opacity="0.105" stroke-width="0.7"/>
<rect x="666.1" y="237" width="7.6" height="7.6" fill="#b8860b" fill-opacity="0.3" stroke="#b8860b" stroke-opacity="0.105" stroke-width="0.7"/>
<rect x="689.2" y="247.6" width="7.6" height="7.6" fill="#b8860b" fill-opacity="0.3" stroke="#b8860b" stroke-opacity="0.105" stroke-width="0.7"/>
</g>
<line x1="578" y1="175.8" x2="578" y2="224.5" stroke="#a52a2a" stroke-opacity="0.6" stroke-width="1"/>
<line x1="589" y1="219.8" x2="589" y2="241" stroke="#a52a2a" stroke-opacity="0.6" stroke-width="1"/>
<line x1="617" y1="193.6" x2="617" y2="227.8" stroke="#a52a2a" stroke-opacity="0.6" stroke-width="1"/>
<line x1="651.4" y1="212" x2="651.4" y2="236" stroke="#a52a2a" stroke-opacity="0.6" stroke-width="1"/>
<line x1="643.6" y1="222.4" x2="643.6" y2="249" stroke="#a52a2a" stroke-opacity="0.6" stroke-width="1"/>
<line x1="714.7" y1="183" x2="714.7" y2="212.5" stroke="#a52a2a" stroke-opacity="0.6" stroke-width="1"/>
<line x1="586.4" y1="231" x2="586.4" y2="245" stroke="#b8860b" stroke-opacity="0.6" stroke-width="1"/>
<line x1="574.5" y1="239" x2="574.5" y2="256.6" stroke="#b8860b" stroke-opacity="0.6" stroke-width="1"/>
<line x1="635.8" y1="212" x2="635.8" y2="233.7" stroke="#b8860b" stroke-opacity="0.6" stroke-width="1"/>
<line x1="663.7" y1="226" x2="663.7" y2="238" stroke="#b8860b" stroke-opacity="0.6" stroke-width="1"/>
<line x1="622.4" y1="231" x2="622.4" y2="250" stroke="#b8860b" stroke-opacity="0.6" stroke-width="1"/>
<line x1="712.4" y1="242" x2="712.4" y2="254.7" stroke="#b8860b" stroke-opacity="0.6" stroke-width="1"/>
<line x1="584.5" y1="241" x2="584.5" y2="254" stroke="#ff0000" stroke-opacity="0.6" stroke-width="1"/>
<line x1="714.7" y1="230" x2="714.7" y2="241.6" stroke="#ff0000" stroke-opacity="0.6" stroke-width="1"/>
<line x1="653.4" y1="250" x2="653.4" y2="260" stroke="#ff0000" stroke-opacity="0.6" stroke-width="1"/>
<rect x="573.95" y="196.05" width="8.1" height="8.1" fill="#a52a2a" fill-opacity="1" stroke="#a52a2a" stroke-opacity="1.000" stroke-width="0.4"/>
<rect x="584.95" y="227.45" width="8.1" height="8.1" fill="#a52a2a" fill-opacity="1" stroke="#a52a2a" stroke-opacity="1.000" stroke-width="0.4"/>
<rect x="612.95" y="207.25" width="8.1" height="8.1" fill="#a52a2a" fill-opacity="1" stroke="#a52a2a" stroke-opacity="1.000" stroke-width="0.4"/>
<rect x="647.35" y="220.15" width="8.1" height="8.1" fill="#a52a2a" fill-opacity="1" stroke="#a52a2a" stroke-opacity="1.000" stroke-width="0.4"/>
<rect x="639.55" y="231.55" width="8.1" height="8.1" fill="#a52a2a" fill-opacity="1" stroke="#a52a2a" stroke-opacity="1.000" stroke-width="0.4"/>
<rect x="710.65" y="193.75" width="8.1" height="8.1" fill="#a52a2a" fill-opacity="1" stroke="#a52a2a" stroke-opacity="1.000" stroke-width="0.4"/>
<rect x="582.35" y="234.65" width="8.1" height="8.1" fill="#b8860b" fill-opacity="1" stroke="#b8860b" stroke-opacity="1.000" stroke-width="0.4"/>
<rect x="570.45" y="244.65" width="8.1" height="8.1" fill="#b8860b" fill-opacity="1" stroke="#b8860b" stroke-opacity="1.000" stroke-width="0.4"/>
<rect x="631.75" y="218.35" width="8.1" height="8.1" fill="#b8860b" fill-opacity="1" stroke="#b8860b" stroke-opacity="1.000" stroke-width="0.4"/>
<rect x="643.15" y="227.25" width="8.1" height="8.1" fill="#b8860b" fill-opacity="1" stroke="#b8860b" stroke-opacity="1.000" stroke-width="0.4"/>
<rect x="649.75" y="227.75" width="8.1" height="8.1" fill="#b8860b" fill-opacity="1" stroke="#b8860b" stroke-opacity="1.000" stroke-width="0.4"/>
<rect x="659.65" y="227.75" width="8.1" height="8.1" fill="#b8860b" fill-opacity="1" stroke="#b8860b" stroke-opacity="1.000" stroke-width="0.4"/>
<rect x="618.35" y="236.25" width="8.1" height="8.1" fill="#b8860b" fill-opacity="1" stroke="#b8860b" stroke-opacity="1.000" stroke-width="0.4"/>
<rect x="670.55" y="237.15" width="8.1" height="8.1" fill="#b8860b" fill-opacity="1" stroke="#b8860b" stroke-opacity="1.000" stroke-width="0.4"/>
<rect x="684.75" y="239.05" width="8.1" height="8.1" fill="#b8860b" fill-opacity="1" stroke="#b8860b" stroke-opacity="1.000" stroke-width="0.4"/>
<rect x="708.35" y="242.65" width="8.1" height="8.1" fill="#b8860b" fill-opacity="1" stroke="#b8860b" stroke-opacity="1.000" stroke-width="0.4"/>
<rect x="580.45" y="244.65" width="8.1" height="8.1" fill="#ff0000" fill-opacity="1" stroke="#ff0000" stroke-opacity="1.000" stroke-width="0.4"/>
<rect x="710.65" y="233.15" width="8.1" height="8.1" fill="#ff0000" fill-opacity="1" stroke="#ff0000" stroke-opacity="1.000" stroke-width="0.4"/>
<circle cx="653.4" cy="255.5" r="3.8" fill="#ff0000" fill-opacity="1" stroke="#ff0000" stroke-opacity="1.000" stroke-width="0.4"/>
<rect x="414.5" y="11.5" width="321" height="156" fill="none" stroke="#c6c6c6" stroke-width="1"/>
<rect x="414.5" y="167.5" width="321" height="156.4" fill="none" stroke="#c6c6c6" stroke-width="1"/>
<line x1="415.5" y1="11.5" x2="415.5" y2="15.5" stroke="#5a5a5a" stroke-width="1"/>
<line x1="415.5" y1="167.5" x2="415.5" y2="163.5" stroke="#5a5a5a" stroke-width="1"/>
<line x1="449.5" y1="11.5" x2="449.5" y2="15.5" stroke="#5a5a5a" stroke-width="1"/>
<line x1="449.5" y1="167.5" x2="449.5" y2="163.5" stroke="#5a5a5a" stroke-width="1"/>
<line x1="482.5" y1="11.5" x2="482.5" y2="15.5" stroke="#5a5a5a" stroke-width="1"/>
<line x1="482.5" y1="167.5" x2="482.5" y2="163.5" stroke="#5a5a5a" stroke-width="1"/>
<line x1="516.5" y1="11.5" x2="516.5" y2="15.5" stroke="#5a5a5a" stroke-width="1"/>
<line x1="516.5" y1="167.5" x2="516.5" y2="163.5" stroke="#5a5a5a" stroke-width="1"/>
<line x1="549.5" y1="11.5" x2="549.5" y2="15.5" stroke="#5a5a5a" stroke-width="1"/>
<line x1="549.5" y1="167.5" x2="549.5" y2="163.5" stroke="#5a5a5a" stroke-width="1"/>
<line x1="582.5" y1="11.5" x2="582.5" y2="15.5" stroke="#5a5a5a" stroke-width="1"/>
<line x1="582.5" y1="167.5" x2="582.5" y2="163.5" stroke="#5a5a5a" stroke-width="1"/>
<line x1="616.5" y1="11.5" x2="616.5" y2="15.5" stroke="#5a5a5a" stroke-width="1"/>
<line x1="616.5" y1="167.5" x2="616.5" y2="163.5" stroke="#5a5a5a" stroke-width="1"/>
<line x1="649.5" y1="11.5" x2="649.5" y2="15.5" stroke="#5a5a5a" stroke-width="1"/>
<line x1="649.5" y1="167.5" x2="649.5" y2="163.5" stroke="#5a5a5a" stroke-width="1"/>
<line x1="683.5" y1="11.5" x2="683.5" y2="15.5" stroke="#5a5a5a" stroke-width="1"/>
<line x1="683.5" y1="167.5" x2="683.5" y2="163.5" stroke="#5a5a5a" stroke-width="1"/>
<line x1="716.5" y1="11.5" x2="716.5" y2="15.5" stroke="#5a5a5a" stroke-width="1"/>
<line x1="716.5" y1="167.5" x2="716.5" y2="163.5" stroke="#5a5a5a" stroke-width="1"/>
<line x1="432.5" y1="11.5" x2="432.5" y2="14.1" stroke="#5a5a5a" stroke-width="1"/>
<line x1="432.5" y1="167.5" x2="432.5" y2="164.9" stroke="#5a5a5a" stroke-width="1"/>
<line x1="465.5" y1="11.5" x2="465.5" y2="14.1" stroke="#5a5a5a" stroke-width="1"/>
<line x1="465.5" y1="167.5" x2="465.5" y2="164.9" stroke="#5a5a5a" stroke-width="1"/>
<line x1="499.5" y1="11.5" x2="499.5" y2="14.1" stroke="#5a5a5a" stroke-width="1"/>
<line x1="499.5" y1="167.5" x2="499.5" y2="164.9" stroke="#5a5a5a" stroke-width="1"/>
<line x1="532.5" y1="11.5" x2="532.5" y2="14.1" stroke="#5a5a5a" stroke-width="1"/>
<line x1="532.5" y1="167.5" x2="532.5" y2="164.9" stroke="#5a5a5a" stroke-width="1"/>
<line x1="566.5" y1="11.5" x2="566.5" y2="14.1" stroke="#5a5a5a" stroke-width="1"/>
<line x1="566.5" y1="167.5" x2="566.5" y2="164.9" stroke="#5a5a5a" stroke-width="1"/>
<line x1="599.5" y1="11.5" x2="599.5" y2="14.1" stroke="#5a5a5a" stroke-width="1"/>
<line x1="599.5" y1="167.5" x2="599.5" y2="164.9" stroke="#5a5a5a" stroke-width="1"/>
<line x1="633.5" y1="11.5" x2="633.5" y2="14.1" stroke="#5a5a5a" stroke-width="1"/>
<line x1="633.5" y1="167.5" x2="633.5" y2="164.9" stroke="#5a5a5a" stroke-width="1"/>
<line x1="666.5" y1="11.5" x2="666.5" y2="14.1" stroke="#5a5a5a" stroke-width="1"/>
<line x1="666.5" y1="167.5" x2="666.5" y2="164.9" stroke="#5a5a5a" stroke-width="1"/>
<line x1="699.5" y1="11.5" x2="699.5" y2="14.1" stroke="#5a5a5a" stroke-width="1"/>
<line x1="699.5" y1="167.5" x2="699.5" y2="164.9" stroke="#5a5a5a" stroke-width="1"/>
<line x1="733.5" y1="11.5" x2="733.5" y2="14.1" stroke="#5a5a5a" stroke-width="1"/>
<line x1="733.5" y1="167.5" x2="733.5" y2="164.9" stroke="#5a5a5a" stroke-width="1"/>
<line x1="415.5" y1="167.5" x2="415.5" y2="171.5" stroke="#5a5a5a" stroke-width="1"/>
<line x1="415.5" y1="323.9" x2="415.5" y2="319.9" stroke="#5a5a5a" stroke-width="1"/>
<line x1="449.5" y1="167.5" x2="449.5" y2="171.5" stroke="#5a5a5a" stroke-width="1"/>
<line x1="449.5" y1="323.9" x2="449.5" y2="319.9" stroke="#5a5a5a" stroke-width="1"/>
<line x1="482.5" y1="167.5" x2="482.5" y2="171.5" stroke="#5a5a5a" stroke-width="1"/>
<line x1="482.5" y1="323.9" x2="482.5" y2="319.9" stroke="#5a5a5a" stroke-width="1"/>
<line x1="516.5" y1="167.5" x2="516.5" y2="171.5" stroke="#5a5a5a" stroke-width="1"/>
<line x1="516.5" y1="323.9" x2="516.5" y2="319.9" stroke="#5a5a5a" stroke-width="1"/>
<line x1="549.5" y1="167.5" x2="549.5" y2="171.5" stroke="#5a5a5a" stroke-width="1"/>
<line x1="549.5" y1="323.9" x2="549.5" y2="319.9" stroke="#5a5a5a" stroke-width="1"/>
<line x1="582.5" y1="167.5" x2="582.5" y2="171.5" stroke="#5a5a5a" stroke-width="1"/>
<line x1="582.5" y1="323.9" x2="582.5" y2="319.9" stroke="#5a5a5a" stroke-width="1"/>
<line x1="616.5" y1="167.5" x2="616.5" y2="171.5" stroke="#5a5a5a" stroke-width="1"/>
<line x1="616.5" y1="323.9" x2="616.5" y2="319.9" stroke="#5a5a5a" stroke-width="1"/>
<line x1="649.5" y1="167.5" x2="649.5" y2="171.5" stroke="#5a5a5a" stroke-width="1"/>
<line x1="649.5" y1="323.9" x2="649.5" y2="319.9" stroke="#5a5a5a" stroke-width="1"/>
<line x1="683.5" y1="167.5" x2="683.5" y2="171.5" stroke="#5a5a5a" stroke-width="1"/>
<line x1="683.5" y1="323.9" x2="683.5" y2="319.9" stroke="#5a5a5a" stroke-width="1"/>
<line x1="716.5" y1="167.5" x2="716.5" y2="171.5" stroke="#5a5a5a" stroke-width="1"/>
<line x1="716.5" y1="323.9" x2="716.5" y2="319.9" stroke="#5a5a5a" stroke-width="1"/>
<line x1="432.5" y1="167.5" x2="432.5" y2="170.1" stroke="#5a5a5a" stroke-width="1"/>
<line x1="432.5" y1="323.9" x2="432.5" y2="321.3" stroke="#5a5a5a" stroke-width="1"/>
<line x1="465.5" y1="167.5" x2="465.5" y2="170.1" stroke="#5a5a5a" stroke-width="1"/>
<line x1="465.5" y1="323.9" x2="465.5" y2="321.3" stroke="#5a5a5a" stroke-width="1"/>
<line x1="499.5" y1="167.5" x2="499.5" y2="170.1" stroke="#5a5a5a" stroke-width="1"/>
<line x1="499.5" y1="323.9" x2="499.5" y2="321.3" stroke="#5a5a5a" stroke-width="1"/>
<line x1="532.5" y1="167.5" x2="532.5" y2="170.1" stroke="#5a5a5a" stroke-width="1"/>
<line x1="532.5" y1="323.9" x2="532.5" y2="321.3" stroke="#5a5a5a" stroke-width="1"/>
<line x1="566.5" y1="167.5" x2="566.5" y2="170.1" stroke="#5a5a5a" stroke-width="1"/>
<line x1="566.5" y1="323.9" x2="566.5" y2="321.3" stroke="#5a5a5a" stroke-width="1"/>
<line x1="599.5" y1="167.5" x2="599.5" y2="170.1" stroke="#5a5a5a" stroke-width="1"/>
<line x1="599.5" y1="323.9" x2="599.5" y2="321.3" stroke="#5a5a5a" stroke-width="1"/>
<line x1="633.5" y1="167.5" x2="633.5" y2="170.1" stroke="#5a5a5a" stroke-width="1"/>
<line x1="633.5" y1="323.9" x2="633.5" y2="321.3" stroke="#5a5a5a" stroke-width="1"/>
<line x1="666.5" y1="167.5" x2="666.5" y2="170.1" stroke="#5a5a5a" stroke-width="1"/>
<line x1="666.5" y1="323.9" x2="666.5" y2="321.3" stroke="#5a5a5a" stroke-width="1"/>
<line x1="699.5" y1="167.5" x2="699.5" y2="170.1" stroke="#5a5a5a" stroke-width="1"/>
<line x1="699.5" y1="323.9" x2="699.5" y2="321.3" stroke="#5a5a5a" stroke-width="1"/>
<line x1="733.5" y1="167.5" x2="733.5" y2="170.1" stroke="#5a5a5a" stroke-width="1"/>
<line x1="733.5" y1="323.9" x2="733.5" y2="321.3" stroke="#5a5a5a" stroke-width="1"/>
<line x1="414.5" y1="149.5" x2="418" y2="149.5" stroke="#5a5a5a" stroke-width="1"/>
<line x1="735.5" y1="149.5" x2="732" y2="149.5" stroke="#5a5a5a" stroke-width="1"/>
<line x1="414.5" y1="121.5" x2="418" y2="121.5" stroke="#5a5a5a" stroke-width="1"/>
<line x1="735.5" y1="121.5" x2="732" y2="121.5" stroke="#5a5a5a" stroke-width="1"/>
<line x1="414.5" y1="93.5" x2="418" y2="93.5" stroke="#5a5a5a" stroke-width="1"/>
<line x1="735.5" y1="93.5" x2="732" y2="93.5" stroke="#5a5a5a" stroke-width="1"/>
<line x1="414.5" y1="65.5" x2="418" y2="65.5" stroke="#5a5a5a" stroke-width="1"/>
<line x1="735.5" y1="65.5" x2="732" y2="65.5" stroke="#5a5a5a" stroke-width="1"/>
<line x1="414.5" y1="37.5" x2="418" y2="37.5" stroke="#5a5a5a" stroke-width="1"/>
<line x1="735.5" y1="37.5" x2="732" y2="37.5" stroke="#5a5a5a" stroke-width="1"/>
<line x1="414.5" y1="163.5" x2="416.7" y2="163.5" stroke="#5a5a5a" stroke-width="0.9"/>
<line x1="735.5" y1="163.5" x2="733.3" y2="163.5" stroke="#5a5a5a" stroke-width="0.9"/>
<line x1="414.5" y1="135.5" x2="416.7" y2="135.5" stroke="#5a5a5a" stroke-width="0.9"/>
<line x1="735.5" y1="135.5" x2="733.3" y2="135.5" stroke="#5a5a5a" stroke-width="0.9"/>
<line x1="414.5" y1="107.5" x2="416.7" y2="107.5" stroke="#5a5a5a" stroke-width="0.9"/>
<line x1="735.5" y1="107.5" x2="733.3" y2="107.5" stroke="#5a5a5a" stroke-width="0.9"/>
<line x1="414.5" y1="79.5" x2="416.7" y2="79.5" stroke="#5a5a5a" stroke-width="0.9"/>
<line x1="735.5" y1="79.5" x2="733.3" y2="79.5" stroke="#5a5a5a" stroke-width="0.9"/>
<line x1="414.5" y1="51.5" x2="416.7" y2="51.5" stroke="#5a5a5a" stroke-width="0.9"/>
<line x1="735.5" y1="51.5" x2="733.3" y2="51.5" stroke="#5a5a5a" stroke-width="0.9"/>
<line x1="414.5" y1="23.5" x2="416.7" y2="23.5" stroke="#5a5a5a" stroke-width="0.9"/>
<line x1="735.5" y1="23.5" x2="733.3" y2="23.5" stroke="#5a5a5a" stroke-width="0.9"/>
<line x1="414.5" y1="316.5" x2="418" y2="316.5" stroke="#5a5a5a" stroke-width="1"/>
<line x1="735.5" y1="316.5" x2="732" y2="316.5" stroke="#5a5a5a" stroke-width="1"/>
<line x1="414.5" y1="277.5" x2="418" y2="277.5" stroke="#5a5a5a" stroke-width="1"/>
<line x1="735.5" y1="277.5" x2="732" y2="277.5" stroke="#5a5a5a" stroke-width="1"/>
<line x1="414.5" y1="238.5" x2="418" y2="238.5" stroke="#5a5a5a" stroke-width="1"/>
<line x1="735.5" y1="238.5" x2="732" y2="238.5" stroke="#5a5a5a" stroke-width="1"/>
<line x1="414.5" y1="199.5" x2="418" y2="199.5" stroke="#5a5a5a" stroke-width="1"/>
<line x1="735.5" y1="199.5" x2="732" y2="199.5" stroke="#5a5a5a" stroke-width="1"/>
<line x1="414.5" y1="296.5" x2="416.7" y2="296.5" stroke="#5a5a5a" stroke-width="0.9"/>
<line x1="735.5" y1="296.5" x2="733.3" y2="296.5" stroke="#5a5a5a" stroke-width="0.9"/>
<line x1="414.5" y1="257.5" x2="416.7" y2="257.5" stroke="#5a5a5a" stroke-width="0.9"/>
<line x1="735.5" y1="257.5" x2="733.3" y2="257.5" stroke="#5a5a5a" stroke-width="0.9"/>
<line x1="414.5" y1="218.5" x2="416.7" y2="218.5" stroke="#5a5a5a" stroke-width="0.9"/>
<line x1="735.5" y1="218.5" x2="733.3" y2="218.5" stroke="#5a5a5a" stroke-width="0.9"/>
<line x1="414.5" y1="179.5" x2="416.7" y2="179.5" stroke="#5a5a5a" stroke-width="0.9"/>
<line x1="735.5" y1="179.5" x2="733.3" y2="179.5" stroke="#5a5a5a" stroke-width="0.9"/>
<text x="0" y="0" font-size="10.2" text-anchor="end" fill="#1e1e1e" transform="translate(413.6 152.95) scale(1 1.16)">-4</text>
<text x="0" y="0" font-size="10.2" text-anchor="end" fill="#1e1e1e" transform="translate(413.6 125.05) scale(1 1.16)">-2</text>
<text x="0" y="0" font-size="10.2" text-anchor="end" fill="#1e1e1e" transform="translate(413.6 97.15) scale(1 1.16)">0</text>
<text x="0" y="0" font-size="10.2" text-anchor="end" fill="#1e1e1e" transform="translate(413.6 69.25) scale(1 1.16)">2</text>
<text x="0" y="0" font-size="10.2" text-anchor="end" fill="#1e1e1e" transform="translate(413.6 41.35) scale(1 1.16)">4</text>
<text x="0" y="0" font-size="10.2" text-anchor="end" fill="#1e1e1e" transform="translate(413.6 320) scale(1 1.16)">-0.5</text>
<text x="0" y="0" font-size="10.2" text-anchor="end" fill="#1e1e1e" transform="translate(413.6 280.95) scale(1 1.16)">0.0</text>
<text x="0" y="0" font-size="10.2" text-anchor="end" fill="#1e1e1e" transform="translate(413.6 241.9) scale(1 1.16)">0.5</text>
<text x="0" y="0" font-size="10.2" text-anchor="end" fill="#1e1e1e" transform="translate(413.6 202.85) scale(1 1.16)">1.0</text>
<text x="0" y="0" font-size="10.4" text-anchor="middle" fill="#1e1e1e" transform="translate(415.79 332.8) scale(1 1.12)">-270</text>
<text x="0" y="0" font-size="10.4" text-anchor="middle" fill="#1e1e1e" transform="translate(449.22 332.8) scale(1 1.12)">-240</text>
<text x="0" y="0" font-size="10.4" text-anchor="middle" fill="#1e1e1e" transform="translate(482.64 332.8) scale(1 1.12)">-210</text>
<text x="0" y="0" font-size="10.4" text-anchor="middle" fill="#1e1e1e" transform="translate(516.06 332.8) scale(1 1.12)">-180</text>
<text x="0" y="0" font-size="10.4" text-anchor="middle" fill="#1e1e1e" transform="translate(549.49 332.8) scale(1 1.12)">-150</text>
<text x="0" y="0" font-size="10.4" text-anchor="middle" fill="#1e1e1e" transform="translate(582.91 332.8) scale(1 1.12)">-120</text>
<text x="0" y="0" font-size="10.4" text-anchor="middle" fill="#1e1e1e" transform="translate(616.33 332.8) scale(1 1.12)">-90</text>
<text x="0" y="0" font-size="10.4" text-anchor="middle" fill="#1e1e1e" transform="translate(649.75 332.8) scale(1 1.12)">-60</text>
<text x="0" y="0" font-size="10.4" text-anchor="middle" fill="#1e1e1e" transform="translate(683.18 332.8) scale(1 1.12)">-30</text>
<text x="0" y="0" font-size="10.4" text-anchor="middle" fill="#1e1e1e" transform="translate(716.6 332.8) scale(1 1.12)">0</text>
<text x="0" y="0" font-size="11.9" text-anchor="middle" fill="#1e1e1e" transform="translate(402.2 90.0) rotate(-90)">Flux [×10<tspan font-size="8.4" dy="-4.3">−18</tspan><tspan dy="4.3"> erg s</tspan><tspan font-size="8.4" dy="-4.3">−1</tspan><tspan dy="4.3"> cm</tspan><tspan font-size="8.4" dy="-4.3">−2</tspan><tspan dy="4.3"> Å</tspan><tspan font-size="8.4" dy="-4.3">−1</tspan><tspan dy="4.3">]</tspan></text>
<text x="0" y="0" font-size="11.9" text-anchor="middle" fill="#1e1e1e" transform="translate(393.9 246.4) rotate(-90)">Flux [×10<tspan font-size="8.4" dy="-4.3">−17</tspan><tspan dy="4.3"> erg s</tspan><tspan font-size="8.4" dy="-4.3">−1</tspan><tspan dy="4.3"> cm</tspan><tspan font-size="8.4" dy="-4.3">−2</tspan><tspan dy="4.3"> Å</tspan><tspan font-size="8.4" dy="-4.3">−1</tspan><tspan dy="4.3">]</tspan></text>
<text x="575.2" y="346.7" font-size="15.3" text-anchor="middle" fill="#1e1e1e" >Rest-frame Days Relative to First Light</text>
<text x="563.8" y="379.3" font-size="13" text-anchor="middle" fill="#1e1e1e" >(b)</text>
<rect x="418.2" y="15.2" width="148.1" height="41.4" rx="2" ry="2" fill="#fff" fill-opacity="0.85" stroke="#e0e0e0" stroke-width="0.8"/>
<rect x="423.5" y="16.9" width="7.2" height="7.2" fill="#007800" fill-opacity="1" stroke="#005a00" stroke-opacity="1.000" stroke-width="0.5"/>
<circle cx="427.1" cy="30.7" r="3.7" fill="#007800" fill-opacity="1" stroke="#005a00" stroke-opacity="1.000" stroke-width="0.5"/>
<polygon points="427.1,37.2 423.4,44.2 430.8,44.2" fill="#00f4f4" fill-opacity="1" stroke="#00c8c8" stroke-opacity="1.000" stroke-width="0.6" stroke-linejoin="miter"/>
<polygon points="427.1,47.4 423.4,54.4 430.8,54.4" fill="#ff9900" fill-opacity="1" stroke="#d07800" stroke-opacity="1.000" stroke-width="0.6" stroke-linejoin="miter"/>
<rect x="502.3" y="16.8" width="7.4" height="7.4" fill="#156c00" fill-opacity="0.19" stroke="#156c00" stroke-opacity="0.066" stroke-width="0.7"/>
<circle cx="506" cy="30.7" r="3.7" fill="#156c00" fill-opacity="0.18" stroke="#156c00" stroke-opacity="0.063" stroke-width="0.7"/>
<polygon points="506,37.2 502.3,44.2 509.7,44.2" fill="#3a9aa6" fill-opacity="0.13" stroke="#3a9aa6" stroke-opacity="0.045" stroke-width="0.7" stroke-linejoin="miter"/>
<polygon points="506,47.4 502.3,54.4 509.7,54.4" fill="#ff8c00" fill-opacity="0.17" stroke="#ff8c00" stroke-opacity="0.059" stroke-width="0.7" stroke-linejoin="miter"/>
<text x="439.5" y="23.1" font-size="8.0" text-anchor="start" fill="#454545"  textLength="36.3" lengthAdjust="spacingAndGlyphs">PS1 g (&gt; 3<tspan font-style="italic">σ</tspan>)</text>
<text x="439.5" y="33.3" font-size="8.0" text-anchor="start" fill="#454545"  textLength="38" lengthAdjust="spacingAndGlyphs">ZTF g (&gt; 3<tspan font-style="italic">σ</tspan>)</text>
<text x="439.5" y="43.3" font-size="8.0" text-anchor="start" fill="#454545"  textLength="45.7" lengthAdjust="spacingAndGlyphs">ATLAS c (&gt; 3<tspan font-style="italic">σ</tspan>)</text>
<text x="439.5" y="53.5" font-size="8.0" text-anchor="start" fill="#454545"  textLength="45.7" lengthAdjust="spacingAndGlyphs">ATLAS o (&gt; 3<tspan font-style="italic">σ</tspan>)</text>
<text x="518.3" y="23.2" font-size="8.0" text-anchor="start" fill="#454545"  textLength="35.8" lengthAdjust="spacingAndGlyphs">PS1 g (&lt; 3<tspan font-style="italic">σ</tspan>)</text>
<text x="518.3" y="33.4" font-size="8.0" text-anchor="start" fill="#454545"  textLength="36.8" lengthAdjust="spacingAndGlyphs">ZTF r (&lt; 3<tspan font-style="italic">σ</tspan>)</text>
<text x="518.3" y="43.4" font-size="8.0" text-anchor="start" fill="#454545"  textLength="45.9" lengthAdjust="spacingAndGlyphs">ATLAS c (&lt; 3<tspan font-style="italic">σ</tspan>)</text>
<text x="518.3" y="53.6" font-size="8.0" text-anchor="start" fill="#454545"  textLength="45.9" lengthAdjust="spacingAndGlyphs">ATLAS o (&lt; 3<tspan font-style="italic">σ</tspan>)</text>
<rect x="418.2" y="171" width="130.7" height="41.8" rx="2" ry="2" fill="#fff" fill-opacity="0.85" stroke="#e0e0e0" stroke-width="0.8"/>
<rect x="423.5" y="173.1" width="7.2" height="7.2" fill="#b8860b" fill-opacity="1" stroke="#b8860b" stroke-opacity="1.000" stroke-width="0.4"/>
<rect x="423.5" y="183.3" width="7.2" height="7.2" fill="#ff0000" fill-opacity="1" stroke="#ff0000" stroke-opacity="1.000" stroke-width="0.4"/>
<rect x="423.5" y="193.3" width="7.2" height="7.2" fill="#a52a2a" fill-opacity="1" stroke="#a52a2a" stroke-opacity="1.000" stroke-width="0.4"/>
<circle cx="427.1" cy="207.1" r="3.7" fill="#ff0000" fill-opacity="1" stroke="#ff0000" stroke-opacity="1.000" stroke-width="0.4"/>
<rect x="493.3" y="173" width="7.4" height="7.4" fill="#b8860b" fill-opacity="0.25" stroke="#b8860b" stroke-opacity="0.087" stroke-width="0.7"/>
<rect x="493.3" y="183.2" width="7.4" height="7.4" fill="#f05a28" fill-opacity="0.25" stroke="#f05a28" stroke-opacity="0.087" stroke-width="0.7"/>
<rect x="493.3" y="193.2" width="7.4" height="7.4" fill="#a83a1c" fill-opacity="0.25" stroke="#a83a1c" stroke-opacity="0.087" stroke-width="0.7"/>
<circle cx="497" cy="207.1" r="3.6" fill="#f05a28" fill-opacity="0.25" stroke="#f05a28" stroke-opacity="0.087" stroke-width="0.7"/>
<text x="439.4" y="179.3" font-size="8.0" text-anchor="start" fill="#454545"  textLength="35.4" lengthAdjust="spacingAndGlyphs">PS1 i (&gt; 3<tspan font-style="italic">σ</tspan>)</text>
<text x="439.4" y="189.5" font-size="8.0" text-anchor="start" fill="#454545"  textLength="35.7" lengthAdjust="spacingAndGlyphs">PS1 r (&gt; 3<tspan font-style="italic">σ</tspan>)</text>
<text x="439.4" y="199.5" font-size="8.0" text-anchor="start" fill="#454545"  textLength="36.2" lengthAdjust="spacingAndGlyphs">PS1 z (&gt; 3<tspan font-style="italic">σ</tspan>)</text>
<text x="439.4" y="209.7" font-size="8.0" text-anchor="start" fill="#454545"  textLength="37.3" lengthAdjust="spacingAndGlyphs">ZTF r (&gt; 3<tspan font-style="italic">σ</tspan>)</text>
<text x="509.1" y="179.3" font-size="8.0" text-anchor="start" fill="#454545"  textLength="35.1" lengthAdjust="spacingAndGlyphs">PS1 i (&lt; 3<tspan font-style="italic">σ</tspan>)</text>
<text x="509.1" y="189.5" font-size="8.0" text-anchor="start" fill="#454545"  textLength="35.7" lengthAdjust="spacingAndGlyphs">PS1 r (&lt; 3<tspan font-style="italic">σ</tspan>)</text>
<text x="509.1" y="199.5" font-size="8.0" text-anchor="start" fill="#454545"  textLength="36" lengthAdjust="spacingAndGlyphs">PS1 z (&lt; 3<tspan font-style="italic">σ</tspan>)</text>
<text x="509.1" y="209.7" font-size="8.0" text-anchor="start" fill="#454545"  textLength="36.9" lengthAdjust="spacingAndGlyphs">ZTF r (&lt; 3<tspan font-style="italic">σ</tspan>)</text>
</svg></body></html>
